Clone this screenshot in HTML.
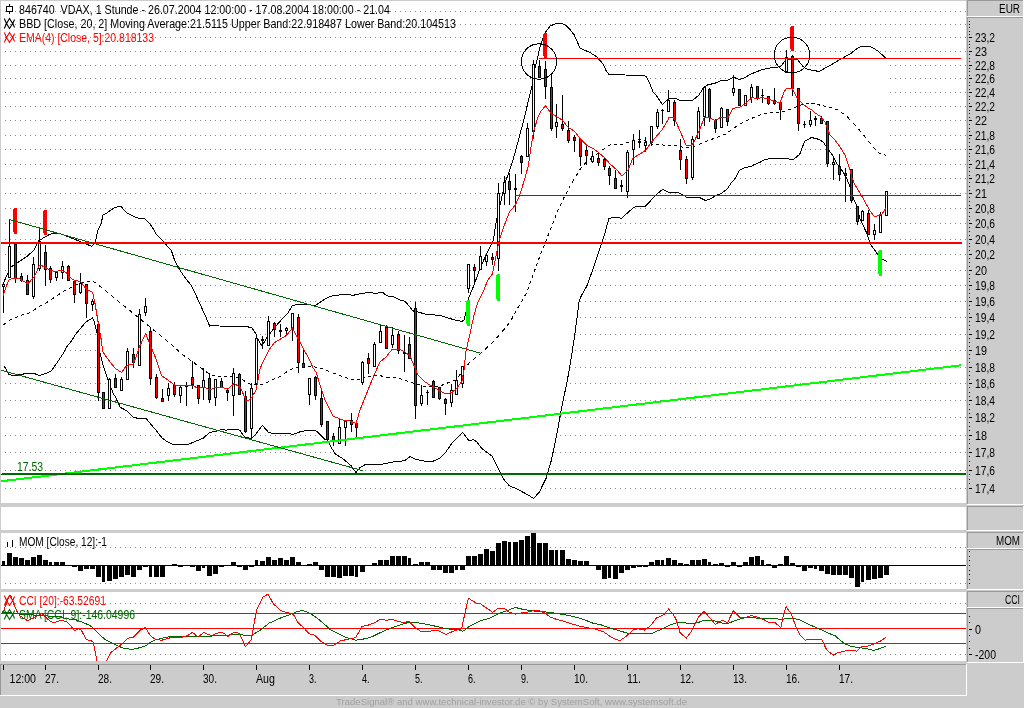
<!DOCTYPE html>
<html><head><meta charset="utf-8"><title>VDAX chart</title>
<style>html,body{margin:0;padding:0;background:#cccccc;} svg{display:block;will-change:transform;}</style></head>
<body><svg width="1024" height="708" viewBox="0 0 1024 708">
<rect x="0" y="0" width="1024" height="708" fill="#cccccc"/>
<rect x="1" y="1" width="965" height="502" fill="#ffffff"/>
<rect x="1" y="507" width="965" height="23" fill="#ffffff"/>
<rect x="1" y="533" width="965" height="56" fill="#ffffff"/>
<rect x="1" y="592" width="965" height="69" fill="#ffffff"/>
<line x1="5" y1="488.5" x2="966" y2="488.5" stroke="#8c8c8c" stroke-width="1" stroke-dasharray="1 4"/>
<line x1="5" y1="470.5" x2="966" y2="470.5" stroke="#8c8c8c" stroke-width="1" stroke-dasharray="1 4"/>
<line x1="5" y1="452.5" x2="966" y2="452.5" stroke="#8c8c8c" stroke-width="1" stroke-dasharray="1 4"/>
<line x1="5" y1="435.5" x2="966" y2="435.5" stroke="#8c8c8c" stroke-width="1" stroke-dasharray="1 4"/>
<line x1="5" y1="417.5" x2="966" y2="417.5" stroke="#8c8c8c" stroke-width="1" stroke-dasharray="1 4"/>
<line x1="5" y1="400.5" x2="966" y2="400.5" stroke="#8c8c8c" stroke-width="1" stroke-dasharray="1 4"/>
<line x1="5" y1="383.5" x2="966" y2="383.5" stroke="#8c8c8c" stroke-width="1" stroke-dasharray="1 4"/>
<line x1="5" y1="367.5" x2="966" y2="367.5" stroke="#8c8c8c" stroke-width="1" stroke-dasharray="1 4"/>
<line x1="5" y1="350.5" x2="966" y2="350.5" stroke="#8c8c8c" stroke-width="1" stroke-dasharray="1 4"/>
<line x1="5" y1="334.5" x2="966" y2="334.5" stroke="#8c8c8c" stroke-width="1" stroke-dasharray="1 4"/>
<line x1="5" y1="317.5" x2="966" y2="317.5" stroke="#8c8c8c" stroke-width="1" stroke-dasharray="1 4"/>
<line x1="5" y1="301.5" x2="966" y2="301.5" stroke="#8c8c8c" stroke-width="1" stroke-dasharray="1 4"/>
<line x1="5" y1="285.5" x2="966" y2="285.5" stroke="#8c8c8c" stroke-width="1" stroke-dasharray="1 4"/>
<line x1="5" y1="270.5" x2="966" y2="270.5" stroke="#8c8c8c" stroke-width="1" stroke-dasharray="1 4"/>
<line x1="5" y1="254.5" x2="966" y2="254.5" stroke="#8c8c8c" stroke-width="1" stroke-dasharray="1 4"/>
<line x1="5" y1="239.5" x2="966" y2="239.5" stroke="#8c8c8c" stroke-width="1" stroke-dasharray="1 4"/>
<line x1="5" y1="223.5" x2="966" y2="223.5" stroke="#8c8c8c" stroke-width="1" stroke-dasharray="1 4"/>
<line x1="5" y1="208.5" x2="966" y2="208.5" stroke="#8c8c8c" stroke-width="1" stroke-dasharray="1 4"/>
<line x1="5" y1="193.5" x2="966" y2="193.5" stroke="#8c8c8c" stroke-width="1" stroke-dasharray="1 4"/>
<line x1="5" y1="178.5" x2="966" y2="178.5" stroke="#8c8c8c" stroke-width="1" stroke-dasharray="1 4"/>
<line x1="5" y1="164.5" x2="966" y2="164.5" stroke="#8c8c8c" stroke-width="1" stroke-dasharray="1 4"/>
<line x1="5" y1="149.5" x2="966" y2="149.5" stroke="#8c8c8c" stroke-width="1" stroke-dasharray="1 4"/>
<line x1="5" y1="135.5" x2="966" y2="135.5" stroke="#8c8c8c" stroke-width="1" stroke-dasharray="1 4"/>
<line x1="5" y1="120.5" x2="966" y2="120.5" stroke="#8c8c8c" stroke-width="1" stroke-dasharray="1 4"/>
<line x1="5" y1="106.5" x2="966" y2="106.5" stroke="#8c8c8c" stroke-width="1" stroke-dasharray="1 4"/>
<line x1="5" y1="92.5" x2="966" y2="92.5" stroke="#8c8c8c" stroke-width="1" stroke-dasharray="1 4"/>
<line x1="5" y1="78.5" x2="966" y2="78.5" stroke="#8c8c8c" stroke-width="1" stroke-dasharray="1 4"/>
<line x1="5" y1="65.5" x2="966" y2="65.5" stroke="#8c8c8c" stroke-width="1" stroke-dasharray="1 4"/>
<line x1="5" y1="51.5" x2="966" y2="51.5" stroke="#8c8c8c" stroke-width="1" stroke-dasharray="1 4"/>
<line x1="5" y1="37.5" x2="966" y2="37.5" stroke="#8c8c8c" stroke-width="1" stroke-dasharray="1 4"/>
<line x1="5" y1="24.5" x2="966" y2="24.5" stroke="#8c8c8c" stroke-width="1" stroke-dasharray="1 4"/>
<line x1="5" y1="11.5" x2="966" y2="11.5" stroke="#8c8c8c" stroke-width="1" stroke-dasharray="1 4"/>
<line x1="5" y1="547.5" x2="966" y2="547.5" stroke="#8c8c8c" stroke-width="1" stroke-dasharray="1 4"/>
<line x1="5" y1="583.5" x2="966" y2="583.5" stroke="#8c8c8c" stroke-width="1" stroke-dasharray="1 4"/>
<line x1="5" y1="603.5" x2="966" y2="603.5" stroke="#8c8c8c" stroke-width="1" stroke-dasharray="1 4"/>
<line x1="5" y1="628.5" x2="966" y2="628.5" stroke="#8c8c8c" stroke-width="1" stroke-dasharray="1 4"/>
<line x1="5" y1="654.5" x2="966" y2="654.5" stroke="#8c8c8c" stroke-width="1" stroke-dasharray="1 4"/>
<polygon points="3.0,284.0 8.0,273.0 11.0,267.0 17.0,263.0 27.5,256.0 34.0,250.0 39.5,239.0 41.7,239.0 44.5,237.3 47.9,235.3 50.2,234.2 53.0,233.3 60.0,233.5 80.0,241.4 86.0,244.0 91.6,246.3 95.0,243.0 98.0,230.0 101.0,224.0 103.0,215.0 107.0,213.0 111.0,210.0 114.0,208.0 118.0,206.5 121.0,206.0 124.0,210.0 127.0,213.0 135.0,217.0 139.0,218.5 145.0,219.0 150.0,224.0 154.0,230.0 156.0,234.0 163.0,241.0 168.0,247.0 171.2,250.0 174.8,260.8 180.8,271.6 185.6,278.5 191.6,285.8 195.2,293.4 200.4,305.0 205.2,315.4 209.6,326.0 212.0,325.6 219.0,326.0 245.0,326.3 250.0,327.3 252.0,328.0 256.0,334.0 257.0,338.0 262.0,346.0 266.0,339.0 271.0,332.0 276.0,326.0 283.0,318.0 288.0,313.0 292.4,305.4 297.0,304.8 303.0,304.3 307.0,304.5 310.0,304.8 315.0,305.6 320.0,302.3 325.0,299.0 330.0,296.3 334.0,295.8 337.0,295.2 342.0,294.7 349.0,294.3 352.0,295.6 360.0,293.7 366.0,292.9 372.0,292.4 374.0,293.4 377.0,293.5 380.0,292.4 383.0,292.7 386.0,295.2 389.0,296.4 395.0,297.2 400.0,300.2 403.0,300.0 406.0,302.5 410.0,307.0 412.0,310.0 414.0,311.5 418.0,312.0 425.0,314.0 440.0,315.5 448.0,318.0 455.0,320.0 462.0,321.5 464.0,320.0 466.0,312.0 468.2,299.3 474.6,283.5 479.6,269.7 483.5,260.8 486.5,253.8 493.4,240.0 496.0,223.0 505.0,183.0 509.0,172.0 513.0,160.0 519.0,138.0 523.0,123.0 532.0,86.0 534.0,72.0 537.0,60.0 540.0,47.0 545.0,33.0 550.0,26.0 554.0,24.4 557.0,23.2 562.0,23.2 567.0,26.4 570.0,29.6 574.0,34.6 576.0,39.0 580.0,47.8 583.0,49.5 590.0,52.5 597.0,57.0 603.0,64.0 606.0,70.5 609.0,74.5 625.0,75.0 643.0,75.3 646.0,76.4 650.0,84.0 652.9,91.7 656.0,95.0 662.3,104.5 668.7,98.6 675.1,98.1 679.6,100.4 692.4,100.4 698.4,95.6 704.3,86.7 708.2,84.7 715.2,83.2 720.6,80.6 727.0,80.3 733.5,77.3 740.0,79.6 745.8,77.1 750.8,74.1 761.7,69.7 771.5,67.7 780.4,66.7 785.0,61.0 787.0,59.3 797.3,59.3 803.2,66.7 807.2,69.2 819.0,71.5 824.0,68.7 828.0,66.6 838.0,60.8 851.0,53.3 857.0,48.6 861.0,46.4 866.0,46.0 872.0,47.3 878.0,51.1 886.0,58.3 887.3,261.8 881.3,258.4 878.4,255.4 871.4,245.5 869.5,241.5 866.5,232.6 859.6,217.8 856.4,204.9 853.4,198.5 850.4,187.6 845.5,175.7 841.5,169.8 837.6,164.8 834.1,157.9 831.3,153.3 827.4,148.4 823.4,142.4 819.5,139.5 811.5,137.5 804.6,141.4 799.7,154.3 793.7,159.2 781.9,158.7 773.0,158.4 765.1,159.3 760.0,162.3 754.6,164.4 751.2,166.4 745.3,167.4 741.9,169.1 739.3,170.3 736.8,175.4 734.2,180.1 730.8,183.5 727.5,188.6 724.9,190.7 721.5,193.2 715.6,195.8 708.8,199.6 705.4,200.4 699.5,197.5 686.8,197.5 685.1,196.2 680.0,193.6 677.1,192.3 668.2,192.1 662.8,189.2 656.3,194.6 648.9,202.5 645.4,206.3 636.5,206.3 633.6,207.5 624.7,215.4 621.2,218.6 618.7,217.4 612.3,217.4 608.8,218.9 605.0,232.7 600.1,247.4 599.4,250.0 593.1,268.8 586.9,285.9 580.3,297.7 579.1,301.6 577.5,314.1 575.2,331.3 572.5,350.0 567.3,380.7 561.6,407.8 557.1,432.7 551.5,459.8 546.1,478.4 539.1,492.5 533.6,498.3 525.0,493.3 516.4,488.6 509.4,485.9 503.1,478.4 498.4,469.1 492.2,456.3 481.3,448.0 476.6,441.7 473.4,439.7 468.8,440.6 462.5,432.3 453.1,441.7 445.3,452.7 439.8,458.1 432.8,461.3 425.8,461.3 420.3,460.2 415.6,459.2 410.2,456.6 404.7,460.5 400.0,461.3 395.0,461.5 383.0,464.0 364.8,464.8 359.9,467.7 356.0,472.6 351.1,465.8 343.3,459.0 335.5,454.1 331.6,448.2 327.7,440.4 325.0,439.3 319.0,433.4 315.6,430.4 307.2,430.4 301.2,431.4 293.3,434.2 289.3,433.9 272.5,433.4 268.1,431.9 262.4,425.3 255.7,434.4 251.3,438.4 244.8,437.4 239.9,430.4 236.4,429.0 232.2,429.0 226.3,430.2 221.6,429.6 215.8,431.3 209.9,432.3 202.9,438.4 197.0,440.7 188.8,444.2 173.6,444.8 166.6,441.3 161.9,437.8 156.0,430.2 149.0,422.0 146.1,418.4 138.4,418.4 133.2,417.3 126.7,410.8 120.3,407.3 115.0,396.2 113.7,394.9 106.3,375.1 102.9,364.7 99.9,352.9 97.0,333.0 94.0,321.0 92.5,318.0 88.0,320.6 85.0,323.0 80.0,329.0 75.0,335.0 71.5,341.0 67.0,346.4 63.0,353.7 59.0,359.8 55.0,365.6 51.0,371.2 47.0,373.2 43.0,374.4 39.0,375.4 34.0,373.4 25.0,373.5 22.0,374.5 18.0,375.0 13.0,375.4 9.0,374.6 6.5,370.0 4.3,366.2" fill="#ffffff"/>
<g shape-rendering="crispEdges" fill="none" stroke="#000" stroke-width="1">
<polyline points="3.0,284.0 8.0,273.0 11.0,267.0 17.0,263.0 27.5,256.0 34.0,250.0 39.5,239.0 41.7,239.0 44.5,237.3 47.9,235.3 50.2,234.2 53.0,233.3 60.0,233.5 80.0,241.4 86.0,244.0 91.6,246.3 95.0,243.0 98.0,230.0 101.0,224.0 103.0,215.0 107.0,213.0 111.0,210.0 114.0,208.0 118.0,206.5 121.0,206.0 124.0,210.0 127.0,213.0 135.0,217.0 139.0,218.5 145.0,219.0 150.0,224.0 154.0,230.0 156.0,234.0 163.0,241.0 168.0,247.0 171.2,250.0 174.8,260.8 180.8,271.6 185.6,278.5 191.6,285.8 195.2,293.4 200.4,305.0 205.2,315.4 209.6,326.0 212.0,325.6 219.0,326.0 245.0,326.3 250.0,327.3 252.0,328.0 256.0,334.0 257.0,338.0 262.0,346.0 266.0,339.0 271.0,332.0 276.0,326.0 283.0,318.0 288.0,313.0 292.4,305.4 297.0,304.8 303.0,304.3 307.0,304.5 310.0,304.8 315.0,305.6 320.0,302.3 325.0,299.0 330.0,296.3 334.0,295.8 337.0,295.2 342.0,294.7 349.0,294.3 352.0,295.6 360.0,293.7 366.0,292.9 372.0,292.4 374.0,293.4 377.0,293.5 380.0,292.4 383.0,292.7 386.0,295.2 389.0,296.4 395.0,297.2 400.0,300.2 403.0,300.0 406.0,302.5 410.0,307.0 412.0,310.0 414.0,311.5 418.0,312.0 425.0,314.0 440.0,315.5 448.0,318.0 455.0,320.0 462.0,321.5 464.0,320.0 466.0,312.0 468.2,299.3 474.6,283.5 479.6,269.7 483.5,260.8 486.5,253.8 493.4,240.0 496.0,223.0 505.0,183.0 509.0,172.0 513.0,160.0 519.0,138.0 523.0,123.0 532.0,86.0 534.0,72.0 537.0,60.0 540.0,47.0 545.0,33.0 550.0,26.0 554.0,24.4 557.0,23.2 562.0,23.2 567.0,26.4 570.0,29.6 574.0,34.6 576.0,39.0 580.0,47.8 583.0,49.5 590.0,52.5 597.0,57.0 603.0,64.0 606.0,70.5 609.0,74.5 625.0,75.0 643.0,75.3 646.0,76.4 650.0,84.0 652.9,91.7 656.0,95.0 662.3,104.5 668.7,98.6 675.1,98.1 679.6,100.4 692.4,100.4 698.4,95.6 704.3,86.7 708.2,84.7 715.2,83.2 720.6,80.6 727.0,80.3 733.5,77.3 740.0,79.6 745.8,77.1 750.8,74.1 761.7,69.7 771.5,67.7 780.4,66.7 785.0,61.0 787.0,59.3 797.3,59.3 803.2,66.7 807.2,69.2 819.0,71.5 824.0,68.7 828.0,66.6 838.0,60.8 851.0,53.3 857.0,48.6 861.0,46.4 866.0,46.0 872.0,47.3 878.0,51.1 886.0,58.3"/>
<polyline points="4.3,366.2 6.5,370.0 9.0,374.6 13.0,375.4 18.0,375.0 22.0,374.5 25.0,373.5 34.0,373.4 39.0,375.4 43.0,374.4 47.0,373.2 51.0,371.2 55.0,365.6 59.0,359.8 63.0,353.7 67.0,346.4 71.5,341.0 75.0,335.0 80.0,329.0 85.0,323.0 88.0,320.6 92.5,318.0 94.0,321.0 97.0,333.0 99.9,352.9 102.9,364.7 106.3,375.1 113.7,394.9 115.0,396.2 120.3,407.3 126.7,410.8 133.2,417.3 138.4,418.4 146.1,418.4 149.0,422.0 156.0,430.2 161.9,437.8 166.6,441.3 173.6,444.8 188.8,444.2 197.0,440.7 202.9,438.4 209.9,432.3 215.8,431.3 221.6,429.6 226.3,430.2 232.2,429.0 236.4,429.0 239.9,430.4 244.8,437.4 251.3,438.4 255.7,434.4 262.4,425.3 268.1,431.9 272.5,433.4 289.3,433.9 293.3,434.2 301.2,431.4 307.2,430.4 315.6,430.4 319.0,433.4 325.0,439.3 327.7,440.4 331.6,448.2 335.5,454.1 343.3,459.0 351.1,465.8 356.0,472.6 359.9,467.7 364.8,464.8 383.0,464.0 395.0,461.5 400.0,461.3 404.7,460.5 410.2,456.6 415.6,459.2 420.3,460.2 425.8,461.3 432.8,461.3 439.8,458.1 445.3,452.7 453.1,441.7 462.5,432.3 468.8,440.6 473.4,439.7 476.6,441.7 481.3,448.0 492.2,456.3 498.4,469.1 503.1,478.4 509.4,485.9 516.4,488.6 525.0,493.3 533.6,498.3 539.1,492.5 546.1,478.4 551.5,459.8 557.1,432.7 561.6,407.8 567.3,380.7 572.5,350.0 575.2,331.3 577.5,314.1 579.1,301.6 580.3,297.7 586.9,285.9 593.1,268.8 599.4,250.0 600.1,247.4 605.0,232.7 608.8,218.9 612.3,217.4 618.7,217.4 621.2,218.6 624.7,215.4 633.6,207.5 636.5,206.3 645.4,206.3 648.9,202.5 656.3,194.6 662.8,189.2 668.2,192.1 677.1,192.3 680.0,193.6 685.1,196.2 686.8,197.5 699.5,197.5 705.4,200.4 708.8,199.6 715.6,195.8 721.5,193.2 724.9,190.7 727.5,188.6 730.8,183.5 734.2,180.1 736.8,175.4 739.3,170.3 741.9,169.1 745.3,167.4 751.2,166.4 754.6,164.4 760.0,162.3 765.1,159.3 773.0,158.4 781.9,158.7 793.7,159.2 799.7,154.3 804.6,141.4 811.5,137.5 819.5,139.5 823.4,142.4 827.4,148.4 831.3,153.3 834.1,157.9 837.6,164.8 841.5,169.8 845.5,175.7 850.4,187.6 853.4,198.5 856.4,204.9 859.6,217.8 866.5,232.6 869.5,241.5 871.4,245.5 878.4,255.4 881.3,258.4 887.3,261.8"/>
<path d="M3.00,325.00 L4.00,324.29 L5.00,323.57 L6.00,322.86M9.00,320.71 L10.00,320.00 L11.00,319.60 L12.00,319.20M15.00,318.00 L16.00,317.60 L17.00,317.17 L18.00,316.73M21.00,315.43 L22.00,315.00 L23.00,314.78 L24.00,314.57M27.00,313.92 L28.00,313.70 L29.00,313.08 L30.00,312.47M33.00,310.62 L34.00,310.00 L35.00,309.33 L36.00,308.67M39.00,306.67 L40.00,306.00 L41.00,305.50 L42.00,305.00M45.00,303.50 L46.00,303.00 L47.00,302.33 L48.00,301.67M51.00,299.67 L52.00,299.00 L53.00,298.33 L54.00,297.67M57.00,295.67 L58.00,295.00 L59.00,294.33 L60.00,293.67M63.00,291.67 L64.00,291.00 L65.00,290.49 L66.00,289.97M69.00,288.43 L70.00,287.91 L71.00,287.40 L72.00,286.91M75.00,285.46 L76.00,284.97 L77.00,284.49 L78.00,284.00M81.00,283.25 L82.00,283.00 L83.00,282.75 L84.00,282.50M87.00,281.75 L88.00,281.50 L89.00,281.50 L90.00,281.50M93.00,281.50 L94.00,282.00 L95.00,282.50 L96.00,283.00M99.00,285.37 L100.00,286.30 L101.00,287.11 L102.00,287.93M105.00,290.37 L106.00,291.19 L107.00,292.00 L108.00,292.82M111.00,295.26 L112.00,296.07 L113.00,296.89 L114.00,297.70M117.00,300.15 L118.00,300.96 L119.00,301.77 L120.00,302.59M123.00,305.03 L124.00,305.85 L125.00,306.66 L126.00,307.48M129.00,309.92 L130.00,310.73 L131.00,311.55 L132.00,312.36M135.00,314.81 L136.00,315.62 L137.00,316.44 L138.00,317.25M141.00,319.69 L142.00,320.51 L143.00,321.32 L144.00,322.14M147.00,324.58 L148.00,325.39 L149.00,326.21 L150.00,327.02M153.00,329.47 L154.00,330.28 L155.00,331.10 L156.00,331.91M159.00,334.35 L160.00,335.17 L161.00,335.98 L162.00,336.80M165.00,339.24 L166.00,340.06 L167.00,340.87 L168.00,341.68M171.00,344.13 L172.00,344.94 L173.00,345.76 L174.00,346.57M176.80,349.16 L177.60,350.12 L178.40,351.08 L179.20,352.04M182.00,354.38 L183.00,355.08 L184.00,355.77 L185.00,356.46M188.00,358.54 L189.00,359.23 L190.00,359.92 L191.00,360.62M194.00,362.75 L195.00,363.50 L196.00,364.25 L197.00,365.00M200.00,367.25 L201.00,368.00 L202.00,368.75 L203.00,369.50M206.00,371.64 L207.00,372.29 L208.00,372.93 L209.00,373.57M212.00,375.50 L213.00,375.62 L214.00,375.75 L215.00,375.88M218.00,376.25 L219.00,376.38 L220.00,376.50 L221.00,376.46M224.00,376.33 L225.00,376.29 L226.00,376.25 L227.00,376.21M230.00,376.08 L231.00,376.04 L232.00,376.00 L233.00,376.31M236.00,377.25 L237.00,377.56 L238.00,377.88 L239.00,378.19M242.00,379.60 L243.00,380.15 L244.00,380.70 L245.00,381.25M248.00,382.90 L249.00,383.45 L250.00,384.00 L251.00,384.20M254.00,384.80 L255.00,385.00 L256.00,384.94 L257.00,384.88M260.00,384.69 L261.00,384.62 L262.00,384.56 L263.00,384.50M266.00,383.00 L267.00,382.50 L268.00,382.00 L269.00,381.50M272.00,380.00 L273.00,379.56 L274.00,379.12 L275.00,378.69M278.00,377.38 L279.00,376.94 L280.00,376.50 L281.00,375.80M284.00,373.70 L285.00,373.00 L286.00,372.30 L287.00,371.60M290.00,369.50 L291.00,369.25 L292.00,369.00 L293.00,368.75M296.00,368.00 L297.00,367.75 L298.00,367.50 L299.00,367.25M302.00,366.90 L303.00,366.85 L304.00,366.80 L305.00,366.75M308.00,366.60 L309.00,366.55 L310.00,366.50 L311.05,366.61M314.20,366.95 L315.25,367.06 L316.30,367.17 L317.35,367.29M320.36,368.12 L321.34,368.48 L322.32,368.84 L323.30,369.20M326.24,370.28 L327.22,370.64 L328.20,371.00 L329.26,371.44M332.45,372.75 L333.51,373.19 L334.57,373.62 L335.64,374.06M338.68,375.20 L339.67,375.55 L340.66,375.90 L341.65,376.25M344.62,377.30 L345.61,377.65 L346.60,378.00 L347.59,378.22M350.56,378.88 L351.55,379.10 L352.54,379.32 L353.53,379.54M356.50,380.20 L357.55,379.82 L358.60,379.45 L359.65,379.07M362.60,377.90 L363.55,377.50 L364.50,377.10 L365.45,376.70M368.35,376.18 L369.33,376.12 L370.31,376.05 L371.28,375.99M374.22,375.81 L375.19,375.75 L376.17,375.68 L377.15,375.62M380.16,375.73 L381.23,375.95 L382.29,376.18 L383.35,376.40M386.54,377.07 L387.60,377.30 L388.63,377.39 L389.65,377.48M392.74,377.75 L393.76,377.85 L394.79,377.94 L395.82,378.03M398.90,378.30 L399.91,378.64 L400.92,378.97 L401.93,379.31M404.95,380.32 L405.96,380.65 L406.97,380.99 L407.98,381.33M411.00,382.30 L412.00,382.60 L413.00,382.90 L414.00,383.20M417.00,384.10 L418.00,384.40 L419.00,384.70 L420.00,385.00M423.00,385.90 L424.00,386.20 L425.00,386.50 L426.00,386.47M429.00,386.37 L430.00,386.33 L431.00,386.30 L432.00,386.27M435.00,386.17 L436.00,386.13 L437.00,386.10 L438.00,386.07M441.00,385.60 L442.00,385.20 L443.00,384.80 L444.00,384.40M447.00,383.20 L448.00,382.80 L449.00,382.40 L450.00,382.00M453.00,381.00 L454.00,380.67 L455.00,380.33 L456.00,380.00M458.25,377.00 L459.00,376.00 L459.75,375.00 L460.50,374.00M462.80,371.00 L463.60,370.00 L464.40,369.00 L465.20,368.00M467.60,365.00 L468.40,364.00 L469.20,363.00 L470.00,362.00M473.00,359.65 L474.00,358.87 L475.00,358.08 L476.00,357.30M479.00,354.65 L480.00,353.77 L481.00,352.88 L482.00,352.00M485.00,349.38 L486.00,348.50 L487.00,347.62 L488.00,346.75M491.00,344.00 L492.00,343.00 L493.00,342.00 L494.00,341.00M496.67,338.00 L497.50,337.00 L498.33,336.00 L499.17,335.00M502.00,331.75 L503.00,330.62 L504.00,329.50 L504.80,328.50M507.20,325.50 L508.00,324.50 L508.67,323.50 L509.33,322.50M511.33,319.50 L512.00,318.50 L512.50,317.56 L513.00,316.62M514.50,313.81 L515.00,312.88 L515.50,311.94 L516.00,311.00M517.71,308.00 L518.29,307.00 L518.86,306.00 L519.43,305.00M521.20,302.00 L521.80,301.00 L522.40,300.00 L523.00,299.00M524.75,296.00 L525.33,295.00 L525.92,294.00 L526.50,293.00M527.59,289.98 L527.96,288.98 L528.32,287.97 L528.69,286.97M529.78,283.95 L530.15,282.95 L530.51,281.94 L530.88,280.94M531.97,277.92 L532.34,276.91 L532.70,275.91 L533.07,274.90M534.16,271.89 L534.53,270.88 L534.89,269.88 L535.26,268.87M536.35,265.85 L536.72,264.85 L537.08,263.84 L537.45,262.84M538.54,259.82 L538.91,258.82 L539.27,257.81 L539.64,256.81M540.79,253.81 L541.18,252.82 L541.57,251.83 L541.96,250.84M543.14,247.86 L543.54,246.86 L543.93,245.87 L544.32,244.88M545.50,241.90 L545.89,240.91 L546.29,239.91 L546.68,238.92M547.86,235.94 L548.25,234.95 L548.64,233.96 L549.04,232.96M550.21,229.99 L550.61,228.99 L551.00,228.00 L551.39,227.00M552.56,224.00 L552.94,223.00 L553.33,222.00 L553.72,221.00M554.89,218.00 L555.28,217.00 L555.67,216.00 L556.06,215.00M557.22,212.00 L557.61,211.00 L558.00,210.00 L558.48,209.02M559.90,206.07 L560.38,205.08 L560.85,204.10 L561.33,203.12M562.75,200.17 L563.23,199.18 L563.70,198.20 L564.20,197.22M565.70,194.27 L566.20,193.28 L566.70,192.30 L567.20,191.32M568.70,188.37 L569.20,187.38 L569.70,186.40 L570.31,185.41M572.15,182.45 L572.76,181.46 L573.38,180.47 L573.99,179.49M575.85,176.43 L576.48,175.39 L577.11,174.35 L577.74,173.32M579.62,170.21 L580.25,169.17 L580.87,168.14 L581.50,167.10M584.25,164.40 L585.17,163.50 L586.08,162.60 L587.00,161.70M590.08,159.35 L591.10,158.57 L592.12,157.78 L593.15,157.00M596.22,154.65 L597.25,153.87 L598.27,153.08 L599.30,152.30M602.30,150.05 L603.30,149.30 L604.30,148.55 L605.30,147.80M608.25,146.05 L609.23,145.47 L610.22,144.88 L611.20,144.30M614.17,144.30 L615.16,144.30 L616.15,144.30 L617.15,144.30M620.12,144.30 L621.11,144.30 L622.10,144.30 L623.09,143.98M626.06,143.01 L627.04,142.69 L628.03,142.37 L629.02,142.04M631.98,141.07 L632.97,140.73 L633.95,140.40 L634.93,140.07M637.92,139.30 L638.95,139.20 L639.98,139.10 L641.00,139.00M644.00,140.50 L645.00,141.00 L646.00,141.50 L647.00,142.00M650.00,143.20 L651.00,143.60 L652.00,144.00 L653.00,144.06M656.00,144.25 L657.00,144.31 L658.00,144.38 L659.00,144.44M662.00,144.88 L663.00,145.06 L664.00,145.25 L665.00,145.44M668.00,146.00 L669.00,145.93 L670.00,145.86 L671.00,145.79M674.00,145.57 L675.00,145.50 L676.06,145.71 L677.11,145.93M680.29,146.57 L681.34,146.79 L682.40,147.00 L683.39,147.14M686.34,147.57 L687.33,147.71 L688.31,147.86 L689.30,148.00M692.30,147.10 L693.30,146.80 L694.30,146.50 L695.38,146.00M698.63,144.50 L699.72,144.00 L700.80,143.50 L701.78,143.12M704.74,141.99 L705.72,141.62 L706.71,141.24 L707.69,140.86M710.65,139.73 L711.63,139.35 L712.62,138.98 L713.60,138.60M716.58,137.47 L717.57,137.10 L718.56,136.72 L719.55,136.35M722.52,135.22 L723.52,134.85 L724.51,134.47 L725.50,134.10M728.48,132.00 L729.47,131.30 L730.46,130.60 L731.45,129.90M734.42,127.80 L735.42,127.10 L736.41,126.40 L737.40,125.70M740.35,124.10 L741.33,123.57 L742.32,123.03 L743.30,122.50M746.25,120.90 L747.23,120.37 L748.22,119.83 L749.20,119.30M752.18,118.15 L753.17,117.76 L754.16,117.38 L755.15,116.99M758.13,115.84 L759.12,115.45 L760.12,115.07 L761.11,114.68M764.08,113.96 L765.07,113.79 L766.06,113.62 L767.05,113.45M770.02,112.94 L771.01,112.77 L772.00,112.60 L772.99,112.60M775.95,112.60 L776.94,112.60 L777.92,112.60 L778.91,112.60M781.86,112.08 L782.84,111.82 L783.82,111.56 L784.80,111.30M787.77,110.13 L788.76,109.74 L789.74,109.36 L790.73,108.97M793.70,107.80 L794.69,107.41 L795.68,107.02 L796.67,106.63M799.63,105.47 L800.62,105.08 L801.61,104.69 L802.60,104.30M805.57,104.00 L806.56,103.90 L807.54,103.80 L808.53,103.70M811.50,103.40 L812.49,103.60 L813.48,103.80 L814.48,104.00M817.45,104.60 L818.44,104.80 L819.43,105.00 L820.42,105.20M823.40,105.80 L824.34,106.04 L825.29,106.29 L826.23,106.53M829.06,107.26 L830.00,107.50 L831.00,107.81 L832.00,108.12M835.00,109.06 L836.00,109.38 L837.00,109.69 L838.00,110.00M841.00,112.10 L842.00,112.80 L843.00,113.50 L844.00,114.20M847.00,116.65 L848.00,117.70 L849.00,118.75 L850.00,119.80M853.00,122.95 L854.00,124.00 L854.89,125.00 L855.78,126.00M858.44,129.00 L859.33,130.00 L860.22,131.00 L861.11,132.00M863.60,135.00 L864.40,136.00 L865.20,137.00 L866.00,138.00M868.40,141.00 L869.20,142.00 L870.00,143.00 L870.80,143.95M873.20,146.80 L874.00,147.75 L874.80,148.70 L875.60,149.65M878.00,152.50 L879.00,152.88 L880.00,153.25 L881.00,153.62M884.00,154.75 L885.00,155.12 L886.00,155.50"/>
</g>
<g shape-rendering="crispEdges"><rect x="3" y="283" width="1" height="30" fill="#000"/><rect x="2" y="284" width="3" height="3" fill="#000"/><rect x="3" y="285" width="1" height="1" fill="#ffffff"/><rect x="9" y="219" width="1" height="59" fill="#000"/><rect x="8" y="246" width="3" height="32" fill="#000"/><rect x="9" y="247" width="1" height="30" fill="#ffffff"/><rect x="15" y="243" width="1" height="40" fill="#000"/><rect x="14" y="244" width="3" height="35" fill="#000"/><rect x="15" y="245" width="1" height="33" fill="#ff0000"/><rect x="21" y="273" width="1" height="9" fill="#000"/><rect x="20" y="276" width="3" height="5" fill="#000"/><rect x="21" y="277" width="1" height="3" fill="#ff0000"/><rect x="27" y="275" width="1" height="20" fill="#000"/><rect x="26" y="280" width="3" height="15" fill="#000"/><rect x="27" y="281" width="1" height="13" fill="#ff0000"/><rect x="33" y="257" width="1" height="42" fill="#000"/><rect x="32" y="264" width="3" height="33" fill="#000"/><rect x="33" y="265" width="1" height="31" fill="#ffffff"/><rect x="39" y="227" width="1" height="44" fill="#000"/><rect x="38" y="241" width="3" height="28" fill="#000"/><rect x="39" y="242" width="1" height="26" fill="#ffffff"/><rect x="45" y="245" width="1" height="41" fill="#000"/><rect x="44" y="252" width="3" height="18" fill="#000"/><rect x="45" y="253" width="1" height="16" fill="#ff0000"/><rect x="50" y="266" width="1" height="17" fill="#000"/><rect x="49" y="268" width="3" height="12" fill="#000"/><rect x="50" y="269" width="1" height="10" fill="#ff0000"/><rect x="56" y="271" width="1" height="10" fill="#000"/><rect x="55" y="272" width="3" height="6" fill="#000"/><rect x="56" y="273" width="1" height="4" fill="#ffffff"/><rect x="62" y="261" width="1" height="18" fill="#000"/><rect x="61" y="266" width="3" height="7" fill="#000"/><rect x="62" y="267" width="1" height="5" fill="#ffffff"/><rect x="68" y="265" width="1" height="16" fill="#000"/><rect x="67" y="266" width="3" height="15" fill="#000"/><rect x="68" y="267" width="1" height="13" fill="#ff0000"/><rect x="74" y="281" width="1" height="22" fill="#000"/><rect x="73" y="281" width="3" height="14" fill="#000"/><rect x="74" y="282" width="1" height="12" fill="#ff0000"/><rect x="80" y="273" width="1" height="21" fill="#000"/><rect x="79" y="283" width="3" height="10" fill="#000"/><rect x="80" y="284" width="1" height="8" fill="#ffffff"/><rect x="86" y="284" width="1" height="34" fill="#000"/><rect x="85" y="284" width="3" height="20" fill="#000"/><rect x="86" y="285" width="1" height="18" fill="#ff0000"/><rect x="92" y="299" width="1" height="12" fill="#000"/><rect x="91" y="301" width="3" height="4" fill="#000"/><rect x="92" y="302" width="1" height="2" fill="#ffffff"/><rect x="98" y="323" width="1" height="78" fill="#000"/><rect x="97" y="324" width="3" height="69" fill="#000"/><rect x="98" y="325" width="1" height="67" fill="#ff0000"/><rect x="103" y="392" width="1" height="17" fill="#000"/><rect x="102" y="392" width="3" height="17" fill="#000"/><rect x="103" y="393" width="1" height="15" fill="#ff0000"/><rect x="109" y="378" width="1" height="31" fill="#000"/><rect x="108" y="379" width="3" height="30" fill="#000"/><rect x="109" y="380" width="1" height="28" fill="#ffffff"/><rect x="115" y="374" width="1" height="14" fill="#000"/><rect x="114" y="378" width="3" height="10" fill="#000"/><rect x="115" y="379" width="1" height="8" fill="#ff0000"/><rect x="121" y="377" width="1" height="14" fill="#000"/><rect x="120" y="379" width="3" height="12" fill="#000"/><rect x="121" y="380" width="1" height="10" fill="#ffffff"/><rect x="127" y="348" width="1" height="32" fill="#000"/><rect x="126" y="351" width="3" height="29" fill="#000"/><rect x="127" y="352" width="1" height="27" fill="#ffffff"/><rect x="133" y="348" width="1" height="20" fill="#000"/><rect x="132" y="354" width="3" height="9" fill="#000"/><rect x="133" y="355" width="1" height="7" fill="#ff0000"/><rect x="139" y="309" width="1" height="57" fill="#000"/><rect x="138" y="314" width="3" height="52" fill="#000"/><rect x="139" y="315" width="1" height="50" fill="#ffffff"/><rect x="145" y="298" width="1" height="18" fill="#000"/><rect x="144" y="306" width="3" height="7" fill="#000"/><rect x="145" y="307" width="1" height="5" fill="#ffffff"/><rect x="150" y="327" width="1" height="58" fill="#000"/><rect x="149" y="331" width="3" height="48" fill="#000"/><rect x="150" y="332" width="1" height="46" fill="#ff0000"/><rect x="156" y="374" width="1" height="25" fill="#000"/><rect x="155" y="377" width="3" height="21" fill="#000"/><rect x="156" y="378" width="1" height="19" fill="#ff0000"/><rect x="162" y="389" width="1" height="13" fill="#000"/><rect x="161" y="398" width="3" height="4" fill="#000"/><rect x="162" y="399" width="1" height="2" fill="#ff0000"/><rect x="168" y="383" width="1" height="18" fill="#000"/><rect x="167" y="388" width="3" height="8" fill="#000"/><rect x="168" y="389" width="1" height="6" fill="#ffffff"/><rect x="174" y="382" width="1" height="15" fill="#000"/><rect x="173" y="385" width="3" height="10" fill="#000"/><rect x="174" y="386" width="1" height="8" fill="#ff0000"/><rect x="180" y="385" width="1" height="18" fill="#000"/><rect x="179" y="387" width="3" height="9" fill="#000"/><rect x="180" y="388" width="1" height="7" fill="#ffffff"/><rect x="186" y="382" width="1" height="24" fill="#000"/><rect x="185" y="385" width="3" height="2" fill="#000"/><rect x="192" y="361" width="1" height="28" fill="#000"/><rect x="191" y="377" width="3" height="8" fill="#000"/><rect x="192" y="378" width="1" height="6" fill="#ff0000"/><rect x="198" y="385" width="1" height="19" fill="#000"/><rect x="197" y="385" width="3" height="14" fill="#000"/><rect x="198" y="386" width="1" height="12" fill="#ff0000"/><rect x="203" y="368" width="1" height="32" fill="#000"/><rect x="202" y="380" width="3" height="8" fill="#000"/><rect x="203" y="381" width="1" height="6" fill="#ffffff"/><rect x="209" y="373" width="1" height="30" fill="#000"/><rect x="208" y="378" width="3" height="22" fill="#000"/><rect x="209" y="379" width="1" height="20" fill="#ff0000"/><rect x="215" y="379" width="1" height="27" fill="#000"/><rect x="214" y="379" width="3" height="19" fill="#000"/><rect x="215" y="380" width="1" height="17" fill="#ffffff"/><rect x="221" y="378" width="1" height="10" fill="#000"/><rect x="220" y="381" width="3" height="7" fill="#000"/><rect x="221" y="382" width="1" height="5" fill="#ff0000"/><rect x="227" y="388" width="1" height="13" fill="#000"/><rect x="226" y="390" width="3" height="3" fill="#000"/><rect x="227" y="391" width="1" height="1" fill="#ff0000"/><rect x="233" y="368" width="1" height="48" fill="#000"/><rect x="232" y="373" width="3" height="23" fill="#000"/><rect x="233" y="374" width="1" height="21" fill="#ffffff"/><rect x="239" y="373" width="1" height="22" fill="#000"/><rect x="238" y="374" width="3" height="21" fill="#000"/><rect x="239" y="375" width="1" height="19" fill="#ff0000"/><rect x="245" y="391" width="1" height="42" fill="#000"/><rect x="244" y="396" width="3" height="36" fill="#000"/><rect x="245" y="397" width="1" height="34" fill="#ff0000"/><rect x="251" y="383" width="1" height="56" fill="#000"/><rect x="250" y="388" width="3" height="41" fill="#000"/><rect x="251" y="389" width="1" height="39" fill="#ffffff"/><rect x="256" y="337" width="1" height="51" fill="#000"/><rect x="255" y="338" width="3" height="46" fill="#000"/><rect x="256" y="339" width="1" height="44" fill="#ffffff"/><rect x="262" y="336" width="1" height="13" fill="#000"/><rect x="261" y="339" width="3" height="2" fill="#000"/><rect x="268" y="316" width="1" height="30" fill="#000"/><rect x="267" y="321" width="3" height="25" fill="#000"/><rect x="268" y="322" width="1" height="23" fill="#ffffff"/><rect x="274" y="322" width="1" height="15" fill="#000"/><rect x="273" y="323" width="3" height="7" fill="#000"/><rect x="274" y="324" width="1" height="5" fill="#ff0000"/><rect x="280" y="324" width="1" height="13" fill="#000"/><rect x="279" y="330" width="3" height="2" fill="#000"/><rect x="286" y="327" width="1" height="9" fill="#000"/><rect x="285" y="328" width="3" height="3" fill="#000"/><rect x="286" y="329" width="1" height="1" fill="#ffffff"/><rect x="292" y="313" width="1" height="28" fill="#000"/><rect x="291" y="313" width="3" height="16" fill="#000"/><rect x="292" y="314" width="1" height="14" fill="#ffffff"/><rect x="298" y="314" width="1" height="59" fill="#000"/><rect x="297" y="317" width="3" height="46" fill="#000"/><rect x="298" y="318" width="1" height="44" fill="#ff0000"/><rect x="303" y="349" width="1" height="19" fill="#000"/><rect x="302" y="363" width="3" height="5" fill="#000"/><rect x="303" y="364" width="1" height="3" fill="#ff0000"/><rect x="309" y="378" width="1" height="27" fill="#000"/><rect x="308" y="378" width="3" height="17" fill="#000"/><rect x="309" y="379" width="1" height="15" fill="#ffffff"/><rect x="315" y="376" width="1" height="24" fill="#000"/><rect x="314" y="377" width="3" height="19" fill="#000"/><rect x="315" y="378" width="1" height="17" fill="#ff0000"/><rect x="321" y="390" width="1" height="37" fill="#000"/><rect x="320" y="398" width="3" height="27" fill="#000"/><rect x="321" y="399" width="1" height="25" fill="#ff0000"/><rect x="327" y="421" width="1" height="20" fill="#000"/><rect x="326" y="421" width="3" height="19" fill="#000"/><rect x="327" y="422" width="1" height="17" fill="#ff0000"/><rect x="333" y="433" width="1" height="13" fill="#000"/><rect x="332" y="436" width="3" height="5" fill="#000"/><rect x="333" y="437" width="1" height="3" fill="#ff0000"/><rect x="339" y="419" width="1" height="25" fill="#000"/><rect x="338" y="427" width="3" height="17" fill="#000"/><rect x="339" y="428" width="1" height="15" fill="#ffffff"/><rect x="345" y="420" width="1" height="26" fill="#000"/><rect x="344" y="421" width="3" height="7" fill="#000"/><rect x="345" y="422" width="1" height="5" fill="#ffffff"/><rect x="351" y="413" width="1" height="19" fill="#000"/><rect x="350" y="420" width="3" height="5" fill="#000"/><rect x="351" y="421" width="1" height="3" fill="#ff0000"/><rect x="356" y="422" width="1" height="15" fill="#000"/><rect x="355" y="423" width="3" height="5" fill="#000"/><rect x="356" y="424" width="1" height="3" fill="#ff0000"/><rect x="362" y="361" width="1" height="24" fill="#000"/><rect x="361" y="362" width="3" height="21" fill="#000"/><rect x="362" y="363" width="1" height="19" fill="#ffffff"/><rect x="368" y="353" width="1" height="21" fill="#000"/><rect x="367" y="358" width="3" height="6" fill="#000"/><rect x="368" y="359" width="1" height="4" fill="#ff0000"/><rect x="374" y="342" width="1" height="25" fill="#000"/><rect x="373" y="344" width="3" height="23" fill="#000"/><rect x="374" y="345" width="1" height="21" fill="#ffffff"/><rect x="380" y="325" width="1" height="18" fill="#000"/><rect x="379" y="331" width="3" height="12" fill="#000"/><rect x="380" y="332" width="1" height="10" fill="#ffffff"/><rect x="386" y="325" width="1" height="24" fill="#000"/><rect x="385" y="327" width="3" height="22" fill="#000"/><rect x="386" y="328" width="1" height="20" fill="#ff0000"/><rect x="392" y="327" width="1" height="21" fill="#000"/><rect x="391" y="335" width="3" height="10" fill="#000"/><rect x="392" y="336" width="1" height="8" fill="#ffffff"/><rect x="398" y="331" width="1" height="23" fill="#000"/><rect x="397" y="334" width="3" height="17" fill="#000"/><rect x="398" y="335" width="1" height="15" fill="#ff0000"/><rect x="404" y="335" width="1" height="37" fill="#000"/><rect x="403" y="352" width="3" height="2" fill="#000"/><rect x="409" y="337" width="1" height="22" fill="#000"/><rect x="408" y="344" width="3" height="15" fill="#000"/><rect x="409" y="345" width="1" height="13" fill="#ff0000"/><rect x="415" y="302" width="1" height="117" fill="#000"/><rect x="414" y="308" width="3" height="98" fill="#000"/><rect x="415" y="309" width="1" height="96" fill="#ff0000"/><rect x="421" y="385" width="1" height="21" fill="#000"/><rect x="420" y="395" width="3" height="9" fill="#000"/><rect x="421" y="396" width="1" height="7" fill="#ffffff"/><rect x="427" y="390" width="1" height="15" fill="#000"/><rect x="426" y="392" width="3" height="1" fill="#000"/><rect x="433" y="380" width="1" height="18" fill="#000"/><rect x="432" y="381" width="3" height="17" fill="#000"/><rect x="433" y="382" width="1" height="15" fill="#ff0000"/><rect x="439" y="387" width="1" height="13" fill="#000"/><rect x="438" y="387" width="3" height="12" fill="#000"/><rect x="439" y="388" width="1" height="10" fill="#ff0000"/><rect x="445" y="398" width="1" height="17" fill="#000"/><rect x="444" y="399" width="3" height="5" fill="#000"/><rect x="445" y="400" width="1" height="3" fill="#ff0000"/><rect x="451" y="384" width="1" height="23" fill="#000"/><rect x="450" y="390" width="3" height="13" fill="#000"/><rect x="451" y="391" width="1" height="11" fill="#ffffff"/><rect x="456" y="370" width="1" height="25" fill="#000"/><rect x="455" y="380" width="3" height="15" fill="#000"/><rect x="456" y="381" width="1" height="13" fill="#ffffff"/><rect x="462" y="366" width="1" height="22" fill="#000"/><rect x="461" y="366" width="3" height="18" fill="#000"/><rect x="462" y="367" width="1" height="16" fill="#ffffff"/><rect x="468" y="264" width="1" height="29" fill="#000"/><rect x="467" y="264" width="3" height="25" fill="#000"/><rect x="468" y="265" width="1" height="23" fill="#ffffff"/><rect x="474" y="264" width="1" height="19" fill="#000"/><rect x="473" y="267" width="3" height="4" fill="#000"/><rect x="474" y="268" width="1" height="2" fill="#ff0000"/><rect x="480" y="246" width="1" height="24" fill="#000"/><rect x="479" y="256" width="3" height="14" fill="#000"/><rect x="480" y="257" width="1" height="12" fill="#ffffff"/><rect x="486" y="253" width="1" height="13" fill="#000"/><rect x="485" y="255" width="3" height="7" fill="#000"/><rect x="486" y="256" width="1" height="5" fill="#ffffff"/><rect x="492" y="253" width="1" height="12" fill="#000"/><rect x="491" y="257" width="3" height="3" fill="#000"/><rect x="492" y="258" width="1" height="1" fill="#ff0000"/><rect x="498" y="183" width="1" height="88" fill="#000"/><rect x="497" y="193" width="3" height="66" fill="#000"/><rect x="498" y="194" width="1" height="64" fill="#ffffff"/><rect x="504" y="176" width="1" height="29" fill="#000"/><rect x="503" y="182" width="3" height="12" fill="#000"/><rect x="504" y="183" width="1" height="10" fill="#ffffff"/><rect x="509" y="173" width="1" height="32" fill="#000"/><rect x="508" y="181" width="3" height="9" fill="#000"/><rect x="509" y="182" width="1" height="7" fill="#ff0000"/><rect x="515" y="174" width="1" height="38" fill="#000"/><rect x="514" y="188" width="3" height="2" fill="#000"/><rect x="521" y="155" width="1" height="19" fill="#000"/><rect x="520" y="156" width="3" height="7" fill="#000"/><rect x="521" y="157" width="1" height="5" fill="#ff0000"/><rect x="527" y="123" width="1" height="34" fill="#000"/><rect x="526" y="128" width="3" height="29" fill="#000"/><rect x="527" y="129" width="1" height="27" fill="#ffffff"/><rect x="533" y="60" width="1" height="79" fill="#000"/><rect x="532" y="64" width="3" height="68" fill="#000"/><rect x="533" y="65" width="1" height="66" fill="#ffffff"/><rect x="539" y="60" width="1" height="18" fill="#000"/><rect x="538" y="66" width="3" height="12" fill="#000"/><rect x="539" y="67" width="1" height="10" fill="#ff0000"/><rect x="545" y="61" width="1" height="38" fill="#000"/><rect x="544" y="69" width="3" height="18" fill="#000"/><rect x="545" y="70" width="1" height="16" fill="#ff0000"/><rect x="551" y="73" width="1" height="58" fill="#000"/><rect x="550" y="87" width="3" height="42" fill="#000"/><rect x="551" y="88" width="1" height="40" fill="#ff0000"/><rect x="556" y="104" width="1" height="34" fill="#000"/><rect x="555" y="122" width="3" height="5" fill="#000"/><rect x="556" y="123" width="1" height="3" fill="#ffffff"/><rect x="562" y="95" width="1" height="36" fill="#000"/><rect x="561" y="124" width="3" height="5" fill="#000"/><rect x="562" y="125" width="1" height="3" fill="#ff0000"/><rect x="568" y="121" width="1" height="22" fill="#000"/><rect x="567" y="130" width="3" height="11" fill="#000"/><rect x="568" y="131" width="1" height="9" fill="#ff0000"/><rect x="574" y="135" width="1" height="17" fill="#000"/><rect x="573" y="137" width="3" height="4" fill="#000"/><rect x="574" y="138" width="1" height="2" fill="#ff0000"/><rect x="580" y="138" width="1" height="28" fill="#000"/><rect x="579" y="139" width="3" height="18" fill="#000"/><rect x="580" y="140" width="1" height="16" fill="#ff0000"/><rect x="586" y="146" width="1" height="19" fill="#000"/><rect x="585" y="150" width="3" height="6" fill="#000"/><rect x="586" y="151" width="1" height="4" fill="#ff0000"/><rect x="592" y="151" width="1" height="12" fill="#000"/><rect x="591" y="156" width="3" height="6" fill="#000"/><rect x="592" y="157" width="1" height="4" fill="#ffffff"/><rect x="598" y="153" width="1" height="13" fill="#000"/><rect x="597" y="158" width="3" height="5" fill="#000"/><rect x="598" y="159" width="1" height="3" fill="#ff0000"/><rect x="604" y="157" width="1" height="13" fill="#000"/><rect x="603" y="159" width="3" height="8" fill="#000"/><rect x="604" y="160" width="1" height="6" fill="#ff0000"/><rect x="609" y="166" width="1" height="19" fill="#000"/><rect x="608" y="168" width="3" height="8" fill="#000"/><rect x="609" y="169" width="1" height="6" fill="#ff0000"/><rect x="615" y="170" width="1" height="19" fill="#000"/><rect x="614" y="178" width="3" height="11" fill="#000"/><rect x="615" y="179" width="1" height="9" fill="#ff0000"/><rect x="621" y="180" width="1" height="12" fill="#000"/><rect x="620" y="185" width="3" height="2" fill="#000"/><rect x="627" y="150" width="1" height="48" fill="#000"/><rect x="626" y="152" width="3" height="40" fill="#000"/><rect x="627" y="153" width="1" height="38" fill="#ffffff"/><rect x="633" y="134" width="1" height="31" fill="#000"/><rect x="632" y="140" width="3" height="10" fill="#000"/><rect x="633" y="141" width="1" height="8" fill="#ffffff"/><rect x="639" y="130" width="1" height="18" fill="#000"/><rect x="638" y="141" width="3" height="2" fill="#000"/><rect x="645" y="137" width="1" height="15" fill="#000"/><rect x="644" y="142" width="3" height="4" fill="#000"/><rect x="645" y="143" width="1" height="2" fill="#ffffff"/><rect x="651" y="126" width="1" height="20" fill="#000"/><rect x="650" y="126" width="3" height="17" fill="#000"/><rect x="651" y="127" width="1" height="15" fill="#ffffff"/><rect x="657" y="109" width="1" height="20" fill="#000"/><rect x="656" y="112" width="3" height="15" fill="#000"/><rect x="657" y="113" width="1" height="13" fill="#ffffff"/><rect x="662" y="109" width="1" height="15" fill="#000"/><rect x="661" y="110" width="3" height="1" fill="#000"/><rect x="668" y="90" width="1" height="22" fill="#000"/><rect x="667" y="100" width="3" height="12" fill="#000"/><rect x="668" y="101" width="1" height="10" fill="#ffffff"/><rect x="674" y="100" width="1" height="26" fill="#000"/><rect x="673" y="102" width="3" height="19" fill="#000"/><rect x="674" y="103" width="1" height="17" fill="#ff0000"/><rect x="680" y="139" width="1" height="31" fill="#000"/><rect x="679" y="150" width="3" height="10" fill="#000"/><rect x="680" y="151" width="1" height="8" fill="#ff0000"/><rect x="686" y="156" width="1" height="28" fill="#000"/><rect x="685" y="159" width="3" height="20" fill="#000"/><rect x="686" y="160" width="1" height="18" fill="#ff0000"/><rect x="692" y="136" width="1" height="44" fill="#000"/><rect x="691" y="139" width="3" height="39" fill="#000"/><rect x="692" y="140" width="1" height="37" fill="#ffffff"/><rect x="698" y="107" width="1" height="32" fill="#000"/><rect x="697" y="111" width="3" height="28" fill="#000"/><rect x="698" y="112" width="1" height="26" fill="#ffffff"/><rect x="704" y="86" width="1" height="40" fill="#000"/><rect x="703" y="87" width="3" height="30" fill="#000"/><rect x="704" y="88" width="1" height="28" fill="#ffffff"/><rect x="709" y="88" width="1" height="34" fill="#000"/><rect x="708" y="89" width="3" height="29" fill="#000"/><rect x="709" y="90" width="1" height="27" fill="#ff0000"/><rect x="715" y="119" width="1" height="14" fill="#000"/><rect x="714" y="120" width="3" height="9" fill="#000"/><rect x="715" y="121" width="1" height="7" fill="#ff0000"/><rect x="721" y="107" width="1" height="21" fill="#000"/><rect x="720" y="108" width="3" height="20" fill="#000"/><rect x="721" y="109" width="1" height="18" fill="#ffffff"/><rect x="727" y="109" width="1" height="17" fill="#000"/><rect x="726" y="109" width="3" height="13" fill="#000"/><rect x="727" y="110" width="1" height="11" fill="#ff0000"/><rect x="733" y="75" width="1" height="21" fill="#000"/><rect x="732" y="88" width="3" height="5" fill="#000"/><rect x="733" y="89" width="1" height="3" fill="#ffffff"/><rect x="739" y="89" width="1" height="17" fill="#000"/><rect x="738" y="89" width="3" height="17" fill="#000"/><rect x="739" y="90" width="1" height="15" fill="#ff0000"/><rect x="745" y="95" width="1" height="11" fill="#000"/><rect x="744" y="95" width="3" height="11" fill="#000"/><rect x="745" y="96" width="1" height="9" fill="#ffffff"/><rect x="751" y="84" width="1" height="19" fill="#000"/><rect x="750" y="87" width="3" height="11" fill="#000"/><rect x="751" y="88" width="1" height="9" fill="#ffffff"/><rect x="757" y="86" width="1" height="14" fill="#000"/><rect x="756" y="86" width="3" height="13" fill="#000"/><rect x="757" y="87" width="1" height="11" fill="#ff0000"/><rect x="762" y="89" width="1" height="14" fill="#000"/><rect x="761" y="95" width="3" height="1" fill="#000"/><rect x="768" y="96" width="1" height="9" fill="#000"/><rect x="767" y="96" width="3" height="8" fill="#000"/><rect x="768" y="97" width="1" height="6" fill="#ff0000"/><rect x="774" y="88" width="1" height="17" fill="#000"/><rect x="773" y="100" width="3" height="4" fill="#000"/><rect x="774" y="101" width="1" height="2" fill="#ff0000"/><rect x="780" y="102" width="1" height="18" fill="#000"/><rect x="779" y="102" width="3" height="8" fill="#000"/><rect x="780" y="103" width="1" height="6" fill="#ff0000"/><rect x="786" y="50" width="1" height="23" fill="#000"/><rect x="785" y="57" width="3" height="16" fill="#000"/><rect x="786" y="58" width="1" height="14" fill="#ffffff"/><rect x="792" y="55" width="1" height="41" fill="#000"/><rect x="791" y="56" width="3" height="33" fill="#000"/><rect x="792" y="57" width="1" height="31" fill="#ff0000"/><rect x="798" y="88" width="1" height="43" fill="#000"/><rect x="797" y="88" width="3" height="36" fill="#000"/><rect x="798" y="89" width="1" height="34" fill="#ff0000"/><rect x="804" y="121" width="1" height="7" fill="#000"/><rect x="803" y="124" width="3" height="1" fill="#000"/><rect x="810" y="111" width="1" height="16" fill="#000"/><rect x="809" y="120" width="3" height="5" fill="#000"/><rect x="810" y="121" width="1" height="3" fill="#ffffff"/><rect x="815" y="116" width="1" height="10" fill="#000"/><rect x="814" y="118" width="3" height="2" fill="#000"/><rect x="821" y="116" width="1" height="8" fill="#000"/><rect x="820" y="118" width="3" height="6" fill="#000"/><rect x="821" y="119" width="1" height="4" fill="#ff0000"/><rect x="827" y="121" width="1" height="46" fill="#000"/><rect x="826" y="121" width="3" height="43" fill="#000"/><rect x="827" y="122" width="1" height="41" fill="#ff0000"/><rect x="833" y="158" width="1" height="22" fill="#000"/><rect x="832" y="162" width="3" height="3" fill="#000"/><rect x="833" y="163" width="1" height="1" fill="#ffffff"/><rect x="839" y="154" width="1" height="27" fill="#000"/><rect x="838" y="166" width="3" height="9" fill="#000"/><rect x="839" y="167" width="1" height="7" fill="#ff0000"/><rect x="845" y="168" width="1" height="34" fill="#000"/><rect x="844" y="173" width="3" height="3" fill="#000"/><rect x="845" y="174" width="1" height="1" fill="#ff0000"/><rect x="851" y="169" width="1" height="34" fill="#000"/><rect x="850" y="169" width="3" height="32" fill="#000"/><rect x="851" y="170" width="1" height="30" fill="#ff0000"/><rect x="857" y="206" width="1" height="19" fill="#000"/><rect x="856" y="206" width="3" height="16" fill="#000"/><rect x="857" y="207" width="1" height="14" fill="#ff0000"/><rect x="862" y="210" width="1" height="11" fill="#000"/><rect x="861" y="211" width="3" height="10" fill="#000"/><rect x="862" y="212" width="1" height="8" fill="#ffffff"/><rect x="868" y="210" width="1" height="25" fill="#000"/><rect x="867" y="213" width="3" height="22" fill="#000"/><rect x="868" y="214" width="1" height="20" fill="#ff0000"/><rect x="874" y="224" width="1" height="16" fill="#000"/><rect x="873" y="230" width="3" height="5" fill="#000"/><rect x="874" y="231" width="1" height="3" fill="#ffffff"/><rect x="880" y="212" width="1" height="21" fill="#000"/><rect x="879" y="215" width="3" height="18" fill="#000"/><rect x="880" y="216" width="1" height="16" fill="#ffffff"/><rect x="886" y="191" width="1" height="25" fill="#000"/><rect x="885" y="191" width="3" height="25" fill="#000"/><rect x="886" y="192" width="1" height="23" fill="#ffffff"/></g>
<polyline points="3.0,296.5 5.6,288.0 8.4,281.0 9.4,279.5 12.5,278.5 15.6,278.0 18.8,278.5 21.9,280.3 25.0,282.0 27.5,283.8 29.4,282.5 31.9,279.0 34.4,276.3 36.9,271.3 38.4,267.2 40.0,265.0 43.1,266.3 45.6,266.9 47.5,268.8 50.0,269.7 53.8,271.3 57.5,271.3 60.0,270.3 63.0,271.0 65.9,272.5 69.9,277.5 74.8,280.5 80.8,281.5 86.0,289.0 92.6,292.2 94.9,302.9 98.3,323.2 101.1,339.0 102.9,352.1 108.6,360.0 115.3,368.5 121.6,372.5 125.5,366.8 128.9,364.5 133.4,364.0 139.6,346.5 145.6,333.5 150.4,345.3 156.0,358.9 161.7,375.8 168.4,380.4 174.1,384.9 177.0,385.5 180.0,385.5 186.0,386.0 192.0,385.0 198.0,388.5 204.0,387.0 210.0,390.0 216.0,387.0 222.0,387.5 228.0,389.0 234.0,383.5 240.0,387.0 246.0,400.0 248.0,401.0 252.0,397.0 256.0,390.0 258.0,380.0 259.8,369.2 263.7,360.3 268.7,350.4 274.6,342.5 280.6,339.0 286.0,335.8 292.4,328.2 298.4,339.6 303.3,348.5 309.2,359.3 313.2,368.2 316.0,372.0 320.0,385.0 325.0,400.0 333.0,416.0 340.0,419.0 344.0,420.3 350.0,421.0 356.0,423.5 360.0,410.0 366.0,395.0 372.0,380.0 375.0,373.0 380.0,362.0 386.0,357.0 392.0,349.5 400.0,349.5 405.0,352.0 410.0,356.0 413.0,363.0 418.0,375.0 425.0,382.0 435.0,388.0 440.0,391.0 446.0,394.0 452.0,392.5 457.0,388.0 462.0,381.0 464.0,370.0 466.0,351.0 470.0,334.0 474.0,315.0 478.0,302.0 484.0,290.0 487.5,280.6 492.4,274.1 495.4,258.8 499.3,240.0 503.2,228.2 509.7,211.4 515.1,205.5 519.6,195.6 524.5,179.8 528.5,165.0 530.5,150.0 533.6,131.4 538.1,116.6 540.6,111.7 545.5,105.7 551.4,113.6 556.4,116.6 562.3,120.1 568.2,127.5 574.2,130.9 579.1,137.4 582.1,140.8 587.0,145.3 594.0,149.2 599.0,153.0 605.0,158.0 610.0,164.0 617.0,170.0 622.0,176.0 628.0,170.0 633.0,158.0 640.0,154.0 646.0,150.0 650.0,144.0 655.0,138.0 662.0,130.0 668.0,120.0 669.0,117.0 673.0,117.0 675.0,119.8 680.4,131.7 686.4,146.0 690.8,145.5 693.3,143.5 699.2,130.7 704.2,117.8 709.1,117.8 715.1,120.3 721.0,117.3 727.9,117.3 733.0,108.5 740.0,107.0 745.0,104.0 752.0,97.5 757.0,99.0 762.0,97.5 768.0,99.0 774.0,101.0 780.0,103.0 784.0,92.0 787.0,88.0 792.0,88.0 797.0,98.0 803.0,104.0 808.0,108.0 812.0,110.0 815.0,113.0 820.0,116.0 822.0,118.0 825.0,122.0 828.0,130.0 830.0,135.0 835.0,140.0 840.0,147.0 845.0,155.0 850.0,170.0 852.0,178.0 855.0,185.0 860.0,193.0 864.0,200.0 870.0,211.0 874.0,216.0 877.0,216.0 882.0,214.0 886.0,208.0" fill="none" stroke="#ff0000" stroke-width="1" shape-rendering="crispEdges"/>
<rect x="14" y="208" width="3" height="26" fill="#ff0000"/><rect x="13" y="209" width="1" height="23" fill="#ff0000"/>
<rect x="44" y="210" width="3" height="25" fill="#ff0000"/><rect x="43" y="211" width="1" height="22" fill="#ff0000"/>
<rect x="544" y="33" width="3" height="25" fill="#ff0000"/><rect x="543" y="34" width="1" height="22" fill="#ff0000"/>
<rect x="791" y="26" width="3" height="25" fill="#ff0000"/><rect x="790" y="27" width="1" height="22" fill="#ff0000"/>
<rect x="467" y="300" width="3" height="26" fill="#00ff00"/><rect x="466" y="301" width="1" height="23" fill="#00ff00"/>
<rect x="497" y="274" width="3" height="27" fill="#00ff00"/><rect x="496" y="275" width="1" height="24" fill="#00ff00"/>
<rect x="879" y="250" width="3" height="26" fill="#00ff00"/><rect x="878" y="251" width="1" height="23" fill="#00ff00"/>
<rect x="1" y="242" width="961" height="2" fill="#ff0000"/>
<rect x="539" y="58" width="422" height="1" fill="#ff0000"/>
<rect x="515" y="195" width="446" height="1" fill="#006800"/>
<text x="17" y="471" fill="#006800" font-family="&quot;Liberation Sans&quot;, sans-serif" font-size="12.5" textLength="26" lengthAdjust="spacingAndGlyphs">17.53</text>
<line x1="1" y1="481.3" x2="961" y2="365.3" stroke="#00ff00" stroke-width="2" shape-rendering="crispEdges"/>
<rect x="2" y="473" width="964" height="2" fill="#006800"/><rect x="1" y="474" width="1" height="1" fill="#006800"/>
<g shape-rendering="crispEdges"><line x1="9.5" y1="219.5" x2="481" y2="353.3" stroke="#006800" stroke-width="1"/>
<line x1="1" y1="370.2" x2="362.8" y2="470.7" stroke="#006800" stroke-width="1"/></g>
<g shape-rendering="crispEdges"><circle cx="539" cy="61.5" r="17.7" fill="none" stroke="#000" stroke-width="1"/>
<circle cx="792" cy="55" r="17.8" fill="none" stroke="#000" stroke-width="1"/></g>
<g shape-rendering="crispEdges"><rect x="9" y="4" width="1" height="10" fill="#000"/><rect x="6.5" y="6.5" width="6" height="5" fill="#fff" stroke="#000" stroke-width="1"/></g>
<text x="19" y="14" fill="#000" font-family="&quot;Liberation Sans&quot;, sans-serif" font-size="12.5" textLength="371" lengthAdjust="spacingAndGlyphs" style="white-space:pre">846740  VDAX, 1 Stunde - 26.07.2004 12:00:00 - 17.08.2004 18:00:00 - 21.04</text>
<polyline points="4.3,18.5 6.5,23.5 9.5,18.5 12.7,23.5 14.600000000000001,19.5" fill="none" stroke="#000" stroke-width="1.1"/><polyline points="4.3,28.5 6.5,23.5 9.5,28.5 12.7,23.5 14.600000000000001,27.5" fill="none" stroke="#000" stroke-width="1.1"/>
<text x="19" y="28" fill="#000" font-family="&quot;Liberation Sans&quot;, sans-serif" font-size="12.5" textLength="437" lengthAdjust="spacingAndGlyphs" style="white-space:pre">BBD [Close, 20, 2] Moving Average:21.5115 Upper Band:22.918487 Lower Band:20.104513</text>
<polyline points="4.3,32.5 6.5,37.5 9.5,32.5 12.7,37.5 14.600000000000001,33.5" fill="none" stroke="#ff0000" stroke-width="1.1"/><polyline points="4.3,42.5 6.5,37.5 9.5,42.5 12.7,37.5 14.600000000000001,41.5" fill="none" stroke="#ff0000" stroke-width="1.1"/>
<text x="19" y="42" fill="#ff0000" font-family="&quot;Liberation Sans&quot;, sans-serif" font-size="12.5" textLength="135" lengthAdjust="spacingAndGlyphs" style="white-space:pre">EMA(4) [Close, 5]:20.818133</text>
<g shape-rendering="crispEdges"><rect x="2" y="561" width="3" height="4" fill="#000"/><rect x="7" y="553" width="5" height="12" fill="#000"/><rect x="13" y="557" width="5" height="8" fill="#000"/><rect x="19" y="558" width="5" height="7" fill="#000"/><rect x="25" y="560" width="5" height="5" fill="#000"/><rect x="31" y="557" width="5" height="8" fill="#000"/><rect x="37" y="555" width="5" height="10" fill="#000"/><rect x="43" y="560" width="5" height="5" fill="#000"/><rect x="49" y="562" width="3" height="3" fill="#000"/><rect x="54" y="562" width="5" height="3" fill="#000"/><rect x="60" y="562" width="5" height="3" fill="#000"/><rect x="72" y="566" width="5" height="1" fill="#000"/><rect x="78" y="566" width="5" height="5" fill="#000"/><rect x="84" y="566" width="5" height="3" fill="#000"/><rect x="90" y="566" width="5" height="3" fill="#000"/><rect x="96" y="566" width="5" height="11" fill="#000"/><rect x="102" y="566" width="3" height="16" fill="#000"/><rect x="107" y="566" width="5" height="15" fill="#000"/><rect x="113" y="566" width="5" height="13" fill="#000"/><rect x="119" y="566" width="5" height="11" fill="#000"/><rect x="125" y="566" width="5" height="9" fill="#000"/><rect x="131" y="566" width="5" height="11" fill="#000"/><rect x="137" y="566" width="5" height="4" fill="#000"/><rect x="143" y="566" width="5" height="1" fill="#000"/><rect x="149" y="566" width="3" height="11" fill="#000"/><rect x="154" y="566" width="5" height="11" fill="#000"/><rect x="160" y="566" width="5" height="11" fill="#000"/><rect x="172" y="564" width="5" height="1" fill="#000"/><rect x="178" y="566" width="5" height="1" fill="#000"/><rect x="190" y="566" width="5" height="1" fill="#000"/><rect x="196" y="566" width="5" height="5" fill="#000"/><rect x="202" y="566" width="3" height="2" fill="#000"/><rect x="207" y="566" width="5" height="10" fill="#000"/><rect x="213" y="566" width="5" height="8" fill="#000"/><rect x="219" y="566" width="5" height="1" fill="#000"/><rect x="231" y="562" width="5" height="3" fill="#000"/><rect x="237" y="566" width="5" height="1" fill="#000"/><rect x="243" y="566" width="5" height="4" fill="#000"/><rect x="249" y="566" width="5" height="1" fill="#000"/><rect x="255" y="560" width="3" height="5" fill="#000"/><rect x="260" y="561" width="5" height="4" fill="#000"/><rect x="266" y="557" width="5" height="8" fill="#000"/><rect x="272" y="560" width="5" height="5" fill="#000"/><rect x="278" y="558" width="5" height="7" fill="#000"/><rect x="284" y="560" width="5" height="5" fill="#000"/><rect x="290" y="557" width="5" height="8" fill="#000"/><rect x="296" y="562" width="5" height="3" fill="#000"/><rect x="307" y="564" width="5" height="1" fill="#000"/><rect x="313" y="562" width="5" height="3" fill="#000"/><rect x="319" y="566" width="5" height="4" fill="#000"/><rect x="325" y="566" width="5" height="11" fill="#000"/><rect x="331" y="566" width="5" height="11" fill="#000"/><rect x="337" y="566" width="5" height="12" fill="#000"/><rect x="343" y="566" width="5" height="10" fill="#000"/><rect x="349" y="566" width="5" height="10" fill="#000"/><rect x="355" y="566" width="3" height="11" fill="#000"/><rect x="360" y="566" width="5" height="6" fill="#000"/><rect x="372" y="563" width="5" height="2" fill="#000"/><rect x="378" y="560" width="5" height="5" fill="#000"/><rect x="384" y="560" width="5" height="5" fill="#000"/><rect x="390" y="556" width="5" height="9" fill="#000"/><rect x="396" y="556" width="5" height="9" fill="#000"/><rect x="402" y="556" width="5" height="9" fill="#000"/><rect x="408" y="558" width="3" height="7" fill="#000"/><rect x="413" y="564" width="5" height="1" fill="#000"/><rect x="419" y="562" width="5" height="3" fill="#000"/><rect x="425" y="562" width="5" height="3" fill="#000"/><rect x="431" y="566" width="5" height="4" fill="#000"/><rect x="437" y="566" width="5" height="4" fill="#000"/><rect x="443" y="566" width="5" height="7" fill="#000"/><rect x="449" y="566" width="5" height="7" fill="#000"/><rect x="455" y="566" width="3" height="4" fill="#000"/><rect x="460" y="566" width="5" height="4" fill="#000"/><rect x="466" y="556" width="5" height="9" fill="#000"/><rect x="472" y="556" width="5" height="9" fill="#000"/><rect x="478" y="554" width="5" height="11" fill="#000"/><rect x="484" y="549" width="5" height="16" fill="#000"/><rect x="490" y="551" width="5" height="14" fill="#000"/><rect x="496" y="543" width="5" height="22" fill="#000"/><rect x="502" y="541" width="5" height="24" fill="#000"/><rect x="508" y="542" width="3" height="23" fill="#000"/><rect x="513" y="542" width="5" height="23" fill="#000"/><rect x="519" y="540" width="5" height="25" fill="#000"/><rect x="525" y="536" width="5" height="29" fill="#000"/><rect x="531" y="533" width="5" height="32" fill="#000"/><rect x="537" y="543" width="5" height="22" fill="#000"/><rect x="543" y="543" width="5" height="22" fill="#000"/><rect x="549" y="550" width="5" height="15" fill="#000"/><rect x="555" y="550" width="3" height="15" fill="#000"/><rect x="560" y="550" width="5" height="15" fill="#000"/><rect x="566" y="559" width="5" height="6" fill="#000"/><rect x="572" y="560" width="5" height="5" fill="#000"/><rect x="578" y="561" width="5" height="4" fill="#000"/><rect x="584" y="561" width="5" height="4" fill="#000"/><rect x="596" y="566" width="5" height="4" fill="#000"/><rect x="602" y="566" width="5" height="13" fill="#000"/><rect x="608" y="566" width="3" height="12" fill="#000"/><rect x="613" y="566" width="5" height="13" fill="#000"/><rect x="619" y="566" width="5" height="7" fill="#000"/><rect x="625" y="566" width="5" height="4" fill="#000"/><rect x="631" y="566" width="5" height="2" fill="#000"/><rect x="637" y="566" width="5" height="1" fill="#000"/><rect x="643" y="566" width="5" height="1" fill="#000"/><rect x="649" y="562" width="5" height="3" fill="#000"/><rect x="655" y="560" width="5" height="5" fill="#000"/><rect x="661" y="560" width="3" height="5" fill="#000"/><rect x="666" y="558" width="5" height="7" fill="#000"/><rect x="672" y="560" width="5" height="5" fill="#000"/><rect x="678" y="563" width="5" height="2" fill="#000"/><rect x="684" y="564" width="5" height="1" fill="#000"/><rect x="690" y="560" width="5" height="5" fill="#000"/><rect x="696" y="560" width="5" height="5" fill="#000"/><rect x="702" y="559" width="5" height="6" fill="#000"/><rect x="708" y="562" width="3" height="3" fill="#000"/><rect x="713" y="564" width="5" height="1" fill="#000"/><rect x="719" y="563" width="5" height="2" fill="#000"/><rect x="725" y="566" width="5" height="1" fill="#000"/><rect x="731" y="562" width="5" height="3" fill="#000"/><rect x="737" y="566" width="5" height="1" fill="#000"/><rect x="743" y="562" width="5" height="3" fill="#000"/><rect x="749" y="557" width="5" height="8" fill="#000"/><rect x="755" y="556" width="5" height="9" fill="#000"/><rect x="761" y="560" width="3" height="5" fill="#000"/><rect x="766" y="564" width="5" height="1" fill="#000"/><rect x="772" y="566" width="5" height="2" fill="#000"/><rect x="778" y="564" width="5" height="1" fill="#000"/><rect x="784" y="556" width="5" height="9" fill="#000"/><rect x="790" y="563" width="5" height="2" fill="#000"/><rect x="796" y="566" width="5" height="1" fill="#000"/><rect x="802" y="566" width="5" height="5" fill="#000"/><rect x="808" y="566" width="5" height="2" fill="#000"/><rect x="814" y="566" width="3" height="3" fill="#000"/><rect x="819" y="566" width="5" height="5" fill="#000"/><rect x="825" y="566" width="5" height="8" fill="#000"/><rect x="831" y="566" width="5" height="9" fill="#000"/><rect x="837" y="566" width="5" height="9" fill="#000"/><rect x="843" y="566" width="5" height="9" fill="#000"/><rect x="849" y="566" width="5" height="12" fill="#000"/><rect x="855" y="566" width="5" height="21" fill="#000"/><rect x="861" y="566" width="3" height="16" fill="#000"/><rect x="866" y="566" width="5" height="14" fill="#000"/><rect x="872" y="566" width="5" height="13" fill="#000"/><rect x="878" y="566" width="5" height="12" fill="#000"/><rect x="884" y="566" width="5" height="9" fill="#000"/></g>
<rect x="1" y="565" width="965" height="1" fill="#000"/>
<g shape-rendering="crispEdges"><rect x="7" y="542" width="1" height="5" fill="#000"/><rect x="12" y="540" width="1" height="7" fill="#000"/></g>
<text x="19" y="546" fill="#000" font-family="&quot;Liberation Sans&quot;, sans-serif" font-size="12.5" textLength="88" lengthAdjust="spacingAndGlyphs" style="white-space:pre">MOM [Close, 12]:-1</text>
<rect x="1" y="613" width="965" height="1" fill="#ff0000"/>
<rect x="1" y="628" width="965" height="1" fill="#ff0000"/>
<rect x="1" y="643" width="965" height="1" fill="#ff0000"/>
<svg x="1" y="592" width="965" height="69" overflow="hidden"><g transform="translate(-1,-592)">
<polyline points="2.0,612.0 20.0,614.0 40.0,615.5 60.9,616.8 66.0,618.7 71.1,619.3 76.2,619.9 81.2,621.8 88.9,625.0 92.7,627.5 96.5,631.4 101.6,636.4 105.4,639.6 111.7,642.8 116.8,645.3 121.9,647.6 125.1,648.5 132.7,649.4 139.0,647.9 145.4,646.0 150.5,642.1 155.5,639.6 160.6,638.7 165.7,637.4 170.8,636.4 183.5,636.2 196.2,636.7 202.5,636.4 211.4,636.2 215.2,635.2 227.9,635.2 234.3,634.5 240.0,633.9 243.8,635.2 251.4,635.4 260.3,630.1 269.2,623.1 280.6,618.0 290.8,614.2 297.1,611.7 302.2,610.4 308.6,612.6 316.2,617.4 323.8,623.7 330.1,629.5 337.8,633.3 345.4,637.1 355.5,640.2 360.0,639.6 367.6,638.3 372.7,636.4 380.3,632.6 389.2,628.8 398.1,625.6 409.5,622.1 415.9,622.5 423.5,623.7 431.1,625.3 438.7,626.9 446.3,628.8 453.9,629.5 460.3,630.1 462.8,631.4 465.4,629.5 469.2,626.3 479.3,621.2 490.2,618.0 500.3,613.0 509.2,609.8 515.5,607.5 521.9,609.1 530.8,610.8 543.5,611.7 556.2,613.3 568.9,615.5 581.6,618.7 594.3,623.7 600.0,624.4 606.3,626.9 615.2,629.5 627.9,633.3 638.1,633.3 652.1,633.3 660.9,629.5 668.6,625.6 674.9,623.1 682.5,622.5 688.9,623.5 693.9,623.5 699.0,622.2 704.1,620.2 711.7,620.2 718.1,621.8 723.1,623.5 727.6,623.5 735.2,620.6 745.4,617.4 753.0,617.4 758.1,618.4 770.8,618.4 780.9,619.3 791.1,618.4 798.7,619.3 808.9,624.4 819.0,628.8 831.7,634.5 835.1,635.8 840.2,640.2 845.2,644.0 850.3,646.0 855.4,647.2 861.7,647.9 868.1,649.1 873.8,650.4 878.2,649.1 882.0,647.6 885.9,646.3" fill="none" stroke="#006800" stroke-width="1" shape-rendering="crispEdges"/>
<polyline points="2.0,612.0 3.8,611.0 8.3,597.7 10.8,595.8 12.7,600.9 14.6,606.0 17.1,611.7 20.3,616.1 25.4,619.3 27.3,620.6 30.5,619.3 34.3,617.4 38.1,615.5 41.9,613.6 43.8,615.5 45.7,617.4 50.8,621.8 54.6,622.5 57.8,621.2 62.2,620.6 66.6,621.8 69.8,624.4 74.3,630.7 78.7,628.8 81.2,630.1 86.3,639.6 91.4,640.9 93.3,642.1 94.6,649.1 97.1,661.2 99.0,668.0 104.0,668.0 106.6,660.6 110.4,652.9 116.8,647.9 121.9,644.0 127.6,638.3 133.3,637.1 140.3,630.1 145.4,627.5 150.5,635.8 155.5,639.6 161.9,640.2 168.2,638.3 173.3,637.1 182.2,637.1 187.3,635.8 192.4,632.4 198.1,637.1 203.8,632.4 211.4,635.8 216.5,633.3 220.3,632.4 224.1,633.3 227.9,636.4 231.7,633.3 235.5,632.4 239.3,633.3 245.4,646.6 251.4,639.6 256.5,609.8 262.9,597.1 267.9,594.3 273.6,604.1 280.6,610.4 285.7,612.3 293.3,614.2 298.4,623.1 303.5,627.5 309.2,633.9 314.9,635.2 321.2,641.5 327.6,645.3 333.9,645.3 340.3,640.9 349.2,639.0 355.5,637.7 360.0,630.1 361.9,626.3 367.6,625.3 374.0,623.1 380.3,619.3 384.1,619.3 385.4,620.6 391.7,619.3 398.1,621.5 403.8,622.5 408.9,621.5 415.9,628.2 420.9,631.4 428.6,631.4 436.2,630.1 441.3,632.0 446.3,634.5 452.7,631.4 456.5,630.1 461.6,628.8 465.4,611.0 468.5,598.3 476.8,603.4 480.0,603.4 486.3,607.9 492.7,612.3 498.4,608.2 504.1,608.2 509.2,612.3 515.5,614.2 521.9,612.9 527.0,612.3 533.3,610.8 539.7,610.8 544.7,612.9 549.8,616.8 556.2,619.3 563.8,621.2 571.4,623.7 580.3,626.3 587.9,627.8 594.3,628.8 601.9,631.4 603.8,632.0 610.2,636.4 615.2,639.2 620.3,640.5 626.7,635.8 633.0,630.1 638.1,628.8 644.4,630.1 650.8,625.6 656.5,618.0 663.5,614.9 668.6,609.1 673.6,614.9 676.2,619.9 680.0,632.6 686.3,638.3 691.4,631.4 697.8,618.0 704.1,611.3 710.5,618.7 715.5,624.4 721.9,620.2 727.6,622.5 733.3,611.0 739.7,617.4 745.4,617.4 751.7,615.5 758.1,617.4 763.2,619.3 768.2,622.2 774.6,622.2 780.9,627.8 783.5,614.2 786.0,606.6 791.1,613.6 796.2,627.5 800.0,635.2 805.1,640.2 808.9,639.2 821.6,639.2 826.6,649.8 833.2,655.2 837.6,652.9 842.7,651.4 849.0,650.4 854.1,650.4 856.7,651.4 861.7,646.6 868.1,646.0 874.4,643.8 880.8,640.9 885.9,637.1" fill="none" stroke="#ff0000" stroke-width="1" shape-rendering="crispEdges"/>
</g></svg>
<polyline points="4.3,595.5 6.5,600.5 9.5,595.5 12.7,600.5 14.600000000000001,596.5" fill="none" stroke="#ff0000" stroke-width="1.1"/><polyline points="4.3,605.5 6.5,600.5 9.5,605.5 12.7,600.5 14.600000000000001,604.5" fill="none" stroke="#ff0000" stroke-width="1.1"/>
<text x="19" y="605" fill="#ff0000" font-family="&quot;Liberation Sans&quot;, sans-serif" font-size="12.5" textLength="87" lengthAdjust="spacingAndGlyphs" style="white-space:pre">CCI [20]:-63.52691</text>
<polyline points="4.3,609.5 6.5,614.5 9.5,609.5 12.7,614.5 14.600000000000001,610.5" fill="none" stroke="#006800" stroke-width="1.1"/><polyline points="4.3,619.5 6.5,614.5 9.5,619.5 12.7,614.5 14.600000000000001,618.5" fill="none" stroke="#006800" stroke-width="1.1"/>
<text x="19" y="619" fill="#006800" font-family="&quot;Liberation Sans&quot;, sans-serif" font-size="12.5" textLength="116" lengthAdjust="spacingAndGlyphs" style="white-space:pre">SMA [CCI, 9]:-146.04996</text>
<rect x="0" y="664" width="966" height="1" fill="#999999"/>
<rect x="0" y="664" width="1" height="32" fill="#999999"/>
<rect x="0" y="695" width="967" height="1" fill="#ffffff"/>
<rect x="966" y="664" width="1" height="32" fill="#ffffff"/>
<g shape-rendering="crispEdges"><rect x="3" y="665" width="1" height="5" fill="#000"/><rect x="45" y="665" width="1" height="5" fill="#000"/><rect x="98" y="665" width="1" height="5" fill="#000"/><rect x="150" y="665" width="1" height="5" fill="#000"/><rect x="203" y="665" width="1" height="5" fill="#000"/><rect x="256" y="665" width="1" height="5" fill="#000"/><rect x="309" y="665" width="1" height="5" fill="#000"/><rect x="362" y="665" width="1" height="5" fill="#000"/><rect x="415" y="665" width="1" height="5" fill="#000"/><rect x="468" y="665" width="1" height="5" fill="#000"/><rect x="521" y="665" width="1" height="5" fill="#000"/><rect x="574" y="665" width="1" height="5" fill="#000"/><rect x="627" y="665" width="1" height="5" fill="#000"/><rect x="680" y="665" width="1" height="5" fill="#000"/><rect x="733" y="665" width="1" height="5" fill="#000"/><rect x="786" y="665" width="1" height="5" fill="#000"/><rect x="839" y="665" width="1" height="5" fill="#000"/></g>
<text x="9.5" y="683" fill="#000" font-family="&quot;Liberation Sans&quot;, sans-serif" font-size="12.5" textLength="26.5" lengthAdjust="spacingAndGlyphs" style="white-space:pre">12:00</text>
<text x="45" y="683" fill="#000" font-family="&quot;Liberation Sans&quot;, sans-serif" font-size="12.5" textLength="14" lengthAdjust="spacingAndGlyphs" style="white-space:pre">27.</text>
<text x="98" y="683" fill="#000" font-family="&quot;Liberation Sans&quot;, sans-serif" font-size="12.5" textLength="14" lengthAdjust="spacingAndGlyphs" style="white-space:pre">28.</text>
<text x="150" y="683" fill="#000" font-family="&quot;Liberation Sans&quot;, sans-serif" font-size="12.5" textLength="14" lengthAdjust="spacingAndGlyphs" style="white-space:pre">29.</text>
<text x="203" y="683" fill="#000" font-family="&quot;Liberation Sans&quot;, sans-serif" font-size="12.5" textLength="14" lengthAdjust="spacingAndGlyphs" style="white-space:pre">30.</text>
<text x="256" y="683" fill="#000" font-family="&quot;Liberation Sans&quot;, sans-serif" font-size="12.5" textLength="19" lengthAdjust="spacingAndGlyphs" style="white-space:pre">Aug</text>
<text x="309" y="683" fill="#000" font-family="&quot;Liberation Sans&quot;, sans-serif" font-size="12.5" textLength="7.5" lengthAdjust="spacingAndGlyphs" style="white-space:pre">3.</text>
<text x="362" y="683" fill="#000" font-family="&quot;Liberation Sans&quot;, sans-serif" font-size="12.5" textLength="7.5" lengthAdjust="spacingAndGlyphs" style="white-space:pre">4.</text>
<text x="415" y="683" fill="#000" font-family="&quot;Liberation Sans&quot;, sans-serif" font-size="12.5" textLength="7.5" lengthAdjust="spacingAndGlyphs" style="white-space:pre">5.</text>
<text x="468" y="683" fill="#000" font-family="&quot;Liberation Sans&quot;, sans-serif" font-size="12.5" textLength="7.5" lengthAdjust="spacingAndGlyphs" style="white-space:pre">6.</text>
<text x="521" y="683" fill="#000" font-family="&quot;Liberation Sans&quot;, sans-serif" font-size="12.5" textLength="7.5" lengthAdjust="spacingAndGlyphs" style="white-space:pre">9.</text>
<text x="574" y="683" fill="#000" font-family="&quot;Liberation Sans&quot;, sans-serif" font-size="12.5" textLength="14" lengthAdjust="spacingAndGlyphs" style="white-space:pre">10.</text>
<text x="627" y="683" fill="#000" font-family="&quot;Liberation Sans&quot;, sans-serif" font-size="12.5" textLength="14" lengthAdjust="spacingAndGlyphs" style="white-space:pre">11.</text>
<text x="680" y="683" fill="#000" font-family="&quot;Liberation Sans&quot;, sans-serif" font-size="12.5" textLength="14" lengthAdjust="spacingAndGlyphs" style="white-space:pre">12.</text>
<text x="733" y="683" fill="#000" font-family="&quot;Liberation Sans&quot;, sans-serif" font-size="12.5" textLength="14" lengthAdjust="spacingAndGlyphs" style="white-space:pre">13.</text>
<text x="786" y="683" fill="#000" font-family="&quot;Liberation Sans&quot;, sans-serif" font-size="12.5" textLength="14" lengthAdjust="spacingAndGlyphs" style="white-space:pre">16.</text>
<text x="839" y="683" fill="#000" font-family="&quot;Liberation Sans&quot;, sans-serif" font-size="12.5" textLength="14" lengthAdjust="spacingAndGlyphs" style="white-space:pre">17.</text>
<text x="336" y="705" fill="#a0a0a0" font-family="&quot;Liberation Sans&quot;, sans-serif" font-size="8.8" textLength="351" lengthAdjust="spacingAndGlyphs" style="white-space:pre">TradeSignal® and www.technical-investor.de © by SystemSoft, www.systemsoft.de</text>
<g shape-rendering="crispEdges"><rect x="967" y="0" width="57" height="1" fill="#999999"/><rect x="967" y="0" width="1" height="17" fill="#999999"/><rect x="967" y="16" width="57" height="1" fill="#ffffff"/><rect x="1023" y="0" width="1" height="17" fill="#ffffff"/><rect x="967" y="17" width="57" height="1" fill="#999999"/><rect x="967" y="17" width="1" height="488" fill="#999999"/><rect x="967" y="504" width="57" height="1" fill="#ffffff"/><rect x="1023" y="17" width="1" height="488" fill="#ffffff"/><rect x="967" y="506" width="57" height="1" fill="#999999"/><rect x="967" y="506" width="1" height="25" fill="#999999"/><rect x="967" y="530" width="57" height="1" fill="#ffffff"/><rect x="1023" y="506" width="1" height="25" fill="#ffffff"/><rect x="967" y="532" width="57" height="1" fill="#999999"/><rect x="967" y="532" width="1" height="17" fill="#999999"/><rect x="967" y="548" width="57" height="1" fill="#ffffff"/><rect x="1023" y="532" width="1" height="17" fill="#ffffff"/><rect x="967" y="549" width="57" height="1" fill="#999999"/><rect x="967" y="549" width="1" height="41" fill="#999999"/><rect x="967" y="589" width="57" height="1" fill="#ffffff"/><rect x="1023" y="549" width="1" height="41" fill="#ffffff"/><rect x="967" y="591" width="57" height="1" fill="#999999"/><rect x="967" y="591" width="1" height="17" fill="#999999"/><rect x="967" y="607" width="57" height="1" fill="#ffffff"/><rect x="1023" y="591" width="1" height="17" fill="#ffffff"/><rect x="967" y="608" width="57" height="1" fill="#999999"/><rect x="967" y="608" width="1" height="55" fill="#999999"/><rect x="967" y="662" width="57" height="1" fill="#ffffff"/><rect x="1023" y="608" width="1" height="55" fill="#ffffff"/></g>
<text x="1020" y="13" fill="#000" font-family="&quot;Liberation Sans&quot;, sans-serif" font-size="12.5" textLength="21" lengthAdjust="spacingAndGlyphs" text-anchor="end" style="white-space:pre">EUR</text>
<text x="1020" y="545" fill="#000" font-family="&quot;Liberation Sans&quot;, sans-serif" font-size="12.5" textLength="24" lengthAdjust="spacingAndGlyphs" text-anchor="end" style="white-space:pre">MOM</text>
<text x="1020" y="604" fill="#000" font-family="&quot;Liberation Sans&quot;, sans-serif" font-size="12.5" textLength="15" lengthAdjust="spacingAndGlyphs" text-anchor="end" style="white-space:pre">CCI</text>
<g shape-rendering="crispEdges"><rect x="969" y="488" width="1" height="1" fill="#000"/><rect x="969" y="483" width="1" height="1" fill="#000"/><rect x="969" y="479" width="1" height="1" fill="#000"/><rect x="969" y="474" width="1" height="1" fill="#000"/><rect x="969" y="470" width="1" height="1" fill="#000"/><rect x="969" y="465" width="1" height="1" fill="#000"/><rect x="969" y="461" width="1" height="1" fill="#000"/><rect x="969" y="456" width="1" height="1" fill="#000"/><rect x="969" y="452" width="1" height="1" fill="#000"/><rect x="969" y="448" width="1" height="1" fill="#000"/><rect x="969" y="443" width="1" height="1" fill="#000"/><rect x="969" y="439" width="1" height="1" fill="#000"/><rect x="969" y="435" width="1" height="1" fill="#000"/><rect x="969" y="430" width="1" height="1" fill="#000"/><rect x="969" y="426" width="1" height="1" fill="#000"/><rect x="969" y="422" width="1" height="1" fill="#000"/><rect x="969" y="417" width="1" height="1" fill="#000"/><rect x="969" y="413" width="1" height="1" fill="#000"/><rect x="969" y="409" width="1" height="1" fill="#000"/><rect x="969" y="404" width="1" height="1" fill="#000"/><rect x="969" y="400" width="1" height="1" fill="#000"/><rect x="969" y="396" width="1" height="1" fill="#000"/><rect x="969" y="392" width="1" height="1" fill="#000"/><rect x="969" y="387" width="1" height="1" fill="#000"/><rect x="969" y="383" width="1" height="1" fill="#000"/><rect x="969" y="379" width="1" height="1" fill="#000"/><rect x="969" y="375" width="1" height="1" fill="#000"/><rect x="969" y="371" width="1" height="1" fill="#000"/><rect x="969" y="367" width="1" height="1" fill="#000"/><rect x="969" y="362" width="1" height="1" fill="#000"/><rect x="969" y="358" width="1" height="1" fill="#000"/><rect x="969" y="354" width="1" height="1" fill="#000"/><rect x="969" y="350" width="1" height="1" fill="#000"/><rect x="969" y="346" width="1" height="1" fill="#000"/><rect x="969" y="342" width="1" height="1" fill="#000"/><rect x="969" y="338" width="1" height="1" fill="#000"/><rect x="969" y="334" width="1" height="1" fill="#000"/><rect x="969" y="329" width="1" height="1" fill="#000"/><rect x="969" y="325" width="1" height="1" fill="#000"/><rect x="969" y="321" width="1" height="1" fill="#000"/><rect x="969" y="317" width="1" height="1" fill="#000"/><rect x="969" y="313" width="1" height="1" fill="#000"/><rect x="969" y="309" width="1" height="1" fill="#000"/><rect x="969" y="305" width="1" height="1" fill="#000"/><rect x="969" y="301" width="1" height="1" fill="#000"/><rect x="969" y="297" width="1" height="1" fill="#000"/><rect x="969" y="293" width="1" height="1" fill="#000"/><rect x="969" y="289" width="1" height="1" fill="#000"/><rect x="969" y="285" width="1" height="1" fill="#000"/><rect x="969" y="281" width="1" height="1" fill="#000"/><rect x="969" y="278" width="1" height="1" fill="#000"/><rect x="969" y="274" width="1" height="1" fill="#000"/><rect x="969" y="270" width="1" height="1" fill="#000"/><rect x="969" y="266" width="1" height="1" fill="#000"/><rect x="969" y="262" width="1" height="1" fill="#000"/><rect x="969" y="258" width="1" height="1" fill="#000"/><rect x="969" y="254" width="1" height="1" fill="#000"/><rect x="969" y="250" width="1" height="1" fill="#000"/><rect x="969" y="246" width="1" height="1" fill="#000"/><rect x="969" y="243" width="1" height="1" fill="#000"/><rect x="969" y="239" width="1" height="1" fill="#000"/><rect x="969" y="235" width="1" height="1" fill="#000"/><rect x="969" y="231" width="1" height="1" fill="#000"/><rect x="969" y="227" width="1" height="1" fill="#000"/><rect x="969" y="223" width="1" height="1" fill="#000"/><rect x="969" y="220" width="1" height="1" fill="#000"/><rect x="969" y="216" width="1" height="1" fill="#000"/><rect x="969" y="212" width="1" height="1" fill="#000"/><rect x="969" y="208" width="1" height="1" fill="#000"/><rect x="969" y="205" width="1" height="1" fill="#000"/><rect x="969" y="201" width="1" height="1" fill="#000"/><rect x="969" y="197" width="1" height="1" fill="#000"/><rect x="969" y="193" width="1" height="1" fill="#000"/><rect x="969" y="190" width="1" height="1" fill="#000"/><rect x="969" y="186" width="1" height="1" fill="#000"/><rect x="969" y="182" width="1" height="1" fill="#000"/><rect x="969" y="178" width="1" height="1" fill="#000"/><rect x="969" y="175" width="1" height="1" fill="#000"/><rect x="969" y="171" width="1" height="1" fill="#000"/><rect x="969" y="167" width="1" height="1" fill="#000"/><rect x="969" y="164" width="1" height="1" fill="#000"/><rect x="969" y="160" width="1" height="1" fill="#000"/><rect x="969" y="156" width="1" height="1" fill="#000"/><rect x="969" y="153" width="1" height="1" fill="#000"/><rect x="969" y="149" width="1" height="1" fill="#000"/><rect x="969" y="146" width="1" height="1" fill="#000"/><rect x="969" y="142" width="1" height="1" fill="#000"/><rect x="969" y="138" width="1" height="1" fill="#000"/><rect x="969" y="135" width="1" height="1" fill="#000"/><rect x="969" y="131" width="1" height="1" fill="#000"/><rect x="969" y="128" width="1" height="1" fill="#000"/><rect x="969" y="124" width="1" height="1" fill="#000"/><rect x="969" y="120" width="1" height="1" fill="#000"/><rect x="969" y="117" width="1" height="1" fill="#000"/><rect x="969" y="113" width="1" height="1" fill="#000"/><rect x="969" y="110" width="1" height="1" fill="#000"/><rect x="969" y="106" width="1" height="1" fill="#000"/><rect x="969" y="103" width="1" height="1" fill="#000"/><rect x="969" y="99" width="1" height="1" fill="#000"/><rect x="969" y="96" width="1" height="1" fill="#000"/><rect x="969" y="92" width="1" height="1" fill="#000"/><rect x="969" y="89" width="1" height="1" fill="#000"/><rect x="969" y="85" width="1" height="1" fill="#000"/><rect x="969" y="82" width="1" height="1" fill="#000"/><rect x="969" y="78" width="1" height="1" fill="#000"/><rect x="969" y="75" width="1" height="1" fill="#000"/><rect x="969" y="71" width="1" height="1" fill="#000"/><rect x="969" y="68" width="1" height="1" fill="#000"/><rect x="969" y="65" width="1" height="1" fill="#000"/><rect x="969" y="61" width="1" height="1" fill="#000"/><rect x="969" y="58" width="1" height="1" fill="#000"/><rect x="969" y="54" width="1" height="1" fill="#000"/><rect x="969" y="51" width="1" height="1" fill="#000"/><rect x="969" y="47" width="1" height="1" fill="#000"/><rect x="969" y="44" width="1" height="1" fill="#000"/><rect x="969" y="41" width="1" height="1" fill="#000"/><rect x="969" y="37" width="1" height="1" fill="#000"/><rect x="969" y="34" width="1" height="1" fill="#000"/><rect x="969" y="31" width="1" height="1" fill="#000"/><rect x="969" y="27" width="1" height="1" fill="#000"/><rect x="969" y="24" width="1" height="1" fill="#000"/><rect x="969" y="21" width="1" height="1" fill="#000"/><rect x="969" y="488" width="3" height="1" fill="#000"/><rect x="969" y="470" width="3" height="1" fill="#000"/><rect x="969" y="452" width="3" height="1" fill="#000"/><rect x="969" y="435" width="3" height="1" fill="#000"/><rect x="969" y="417" width="3" height="1" fill="#000"/><rect x="969" y="400" width="3" height="1" fill="#000"/><rect x="969" y="383" width="3" height="1" fill="#000"/><rect x="969" y="367" width="3" height="1" fill="#000"/><rect x="969" y="350" width="3" height="1" fill="#000"/><rect x="969" y="334" width="3" height="1" fill="#000"/><rect x="969" y="317" width="3" height="1" fill="#000"/><rect x="969" y="301" width="3" height="1" fill="#000"/><rect x="969" y="285" width="3" height="1" fill="#000"/><rect x="969" y="270" width="3" height="1" fill="#000"/><rect x="969" y="254" width="3" height="1" fill="#000"/><rect x="969" y="239" width="3" height="1" fill="#000"/><rect x="969" y="223" width="3" height="1" fill="#000"/><rect x="969" y="208" width="3" height="1" fill="#000"/><rect x="969" y="193" width="3" height="1" fill="#000"/><rect x="969" y="178" width="3" height="1" fill="#000"/><rect x="969" y="164" width="3" height="1" fill="#000"/><rect x="969" y="149" width="3" height="1" fill="#000"/><rect x="969" y="135" width="3" height="1" fill="#000"/><rect x="969" y="120" width="3" height="1" fill="#000"/><rect x="969" y="106" width="3" height="1" fill="#000"/><rect x="969" y="92" width="3" height="1" fill="#000"/><rect x="969" y="78" width="3" height="1" fill="#000"/><rect x="969" y="65" width="3" height="1" fill="#000"/><rect x="969" y="51" width="3" height="1" fill="#000"/><rect x="969" y="37" width="3" height="1" fill="#000"/></g>
<text x="975" y="493" fill="#000" font-family="&quot;Liberation Sans&quot;, sans-serif" font-size="12.5" textLength="20" lengthAdjust="spacingAndGlyphs" style="white-space:pre">17,4</text>
<text x="975" y="475" fill="#000" font-family="&quot;Liberation Sans&quot;, sans-serif" font-size="12.5" textLength="20" lengthAdjust="spacingAndGlyphs" style="white-space:pre">17,6</text>
<text x="975" y="457" fill="#000" font-family="&quot;Liberation Sans&quot;, sans-serif" font-size="12.5" textLength="20" lengthAdjust="spacingAndGlyphs" style="white-space:pre">17,8</text>
<text x="975" y="440" fill="#000" font-family="&quot;Liberation Sans&quot;, sans-serif" font-size="12.5" textLength="12" lengthAdjust="spacingAndGlyphs" style="white-space:pre">18</text>
<text x="975" y="422" fill="#000" font-family="&quot;Liberation Sans&quot;, sans-serif" font-size="12.5" textLength="20" lengthAdjust="spacingAndGlyphs" style="white-space:pre">18,2</text>
<text x="975" y="405" fill="#000" font-family="&quot;Liberation Sans&quot;, sans-serif" font-size="12.5" textLength="20" lengthAdjust="spacingAndGlyphs" style="white-space:pre">18,4</text>
<text x="975" y="388" fill="#000" font-family="&quot;Liberation Sans&quot;, sans-serif" font-size="12.5" textLength="20" lengthAdjust="spacingAndGlyphs" style="white-space:pre">18,6</text>
<text x="975" y="372" fill="#000" font-family="&quot;Liberation Sans&quot;, sans-serif" font-size="12.5" textLength="20" lengthAdjust="spacingAndGlyphs" style="white-space:pre">18,8</text>
<text x="975" y="355" fill="#000" font-family="&quot;Liberation Sans&quot;, sans-serif" font-size="12.5" textLength="12" lengthAdjust="spacingAndGlyphs" style="white-space:pre">19</text>
<text x="975" y="339" fill="#000" font-family="&quot;Liberation Sans&quot;, sans-serif" font-size="12.5" textLength="20" lengthAdjust="spacingAndGlyphs" style="white-space:pre">19,2</text>
<text x="975" y="322" fill="#000" font-family="&quot;Liberation Sans&quot;, sans-serif" font-size="12.5" textLength="20" lengthAdjust="spacingAndGlyphs" style="white-space:pre">19,4</text>
<text x="975" y="306" fill="#000" font-family="&quot;Liberation Sans&quot;, sans-serif" font-size="12.5" textLength="20" lengthAdjust="spacingAndGlyphs" style="white-space:pre">19,6</text>
<text x="975" y="290" fill="#000" font-family="&quot;Liberation Sans&quot;, sans-serif" font-size="12.5" textLength="20" lengthAdjust="spacingAndGlyphs" style="white-space:pre">19,8</text>
<text x="975" y="275" fill="#000" font-family="&quot;Liberation Sans&quot;, sans-serif" font-size="12.5" textLength="12" lengthAdjust="spacingAndGlyphs" style="white-space:pre">20</text>
<text x="975" y="259" fill="#000" font-family="&quot;Liberation Sans&quot;, sans-serif" font-size="12.5" textLength="20" lengthAdjust="spacingAndGlyphs" style="white-space:pre">20,2</text>
<text x="975" y="244" fill="#000" font-family="&quot;Liberation Sans&quot;, sans-serif" font-size="12.5" textLength="20" lengthAdjust="spacingAndGlyphs" style="white-space:pre">20,4</text>
<text x="975" y="228" fill="#000" font-family="&quot;Liberation Sans&quot;, sans-serif" font-size="12.5" textLength="20" lengthAdjust="spacingAndGlyphs" style="white-space:pre">20,6</text>
<text x="975" y="213" fill="#000" font-family="&quot;Liberation Sans&quot;, sans-serif" font-size="12.5" textLength="20" lengthAdjust="spacingAndGlyphs" style="white-space:pre">20,8</text>
<text x="975" y="198" fill="#000" font-family="&quot;Liberation Sans&quot;, sans-serif" font-size="12.5" textLength="12" lengthAdjust="spacingAndGlyphs" style="white-space:pre">21</text>
<text x="975" y="183" fill="#000" font-family="&quot;Liberation Sans&quot;, sans-serif" font-size="12.5" textLength="20" lengthAdjust="spacingAndGlyphs" style="white-space:pre">21,2</text>
<text x="975" y="169" fill="#000" font-family="&quot;Liberation Sans&quot;, sans-serif" font-size="12.5" textLength="20" lengthAdjust="spacingAndGlyphs" style="white-space:pre">21,4</text>
<text x="975" y="154" fill="#000" font-family="&quot;Liberation Sans&quot;, sans-serif" font-size="12.5" textLength="20" lengthAdjust="spacingAndGlyphs" style="white-space:pre">21,6</text>
<text x="975" y="140" fill="#000" font-family="&quot;Liberation Sans&quot;, sans-serif" font-size="12.5" textLength="20" lengthAdjust="spacingAndGlyphs" style="white-space:pre">21,8</text>
<text x="975" y="125" fill="#000" font-family="&quot;Liberation Sans&quot;, sans-serif" font-size="12.5" textLength="12" lengthAdjust="spacingAndGlyphs" style="white-space:pre">22</text>
<text x="975" y="111" fill="#000" font-family="&quot;Liberation Sans&quot;, sans-serif" font-size="12.5" textLength="20" lengthAdjust="spacingAndGlyphs" style="white-space:pre">22,2</text>
<text x="975" y="97" fill="#000" font-family="&quot;Liberation Sans&quot;, sans-serif" font-size="12.5" textLength="20" lengthAdjust="spacingAndGlyphs" style="white-space:pre">22,4</text>
<text x="975" y="83" fill="#000" font-family="&quot;Liberation Sans&quot;, sans-serif" font-size="12.5" textLength="20" lengthAdjust="spacingAndGlyphs" style="white-space:pre">22,6</text>
<text x="975" y="70" fill="#000" font-family="&quot;Liberation Sans&quot;, sans-serif" font-size="12.5" textLength="20" lengthAdjust="spacingAndGlyphs" style="white-space:pre">22,8</text>
<text x="975" y="56" fill="#000" font-family="&quot;Liberation Sans&quot;, sans-serif" font-size="12.5" textLength="12" lengthAdjust="spacingAndGlyphs" style="white-space:pre">23</text>
<text x="975" y="42" fill="#000" font-family="&quot;Liberation Sans&quot;, sans-serif" font-size="12.5" textLength="20" lengthAdjust="spacingAndGlyphs" style="white-space:pre">23,2</text>
<g shape-rendering="crispEdges"><rect x="969" y="551" width="1" height="1" fill="#000"/><rect x="969" y="556" width="1" height="1" fill="#000"/><rect x="969" y="560" width="1" height="1" fill="#000"/><rect x="969" y="565" width="1" height="1" fill="#000"/><rect x="969" y="570" width="1" height="1" fill="#000"/><rect x="969" y="574" width="1" height="1" fill="#000"/><rect x="969" y="579" width="1" height="1" fill="#000"/><rect x="969" y="583" width="1" height="1" fill="#000"/><rect x="969" y="616" width="1" height="1" fill="#000"/><rect x="969" y="622" width="1" height="1" fill="#000"/><rect x="969" y="635" width="1" height="1" fill="#000"/><rect x="969" y="641" width="1" height="1" fill="#000"/><rect x="969" y="648" width="1" height="1" fill="#000"/><rect x="969" y="629" width="3" height="1" fill="#000"/><rect x="969" y="654" width="3" height="1" fill="#000"/></g>
<text x="975" y="634" fill="#000" font-family="&quot;Liberation Sans&quot;, sans-serif" font-size="12.5" textLength="6" lengthAdjust="spacingAndGlyphs" style="white-space:pre">0</text>
<text x="975" y="659" fill="#000" font-family="&quot;Liberation Sans&quot;, sans-serif" font-size="12.5" textLength="21" lengthAdjust="spacingAndGlyphs" style="white-space:pre">-200</text>
</svg></body></html>
